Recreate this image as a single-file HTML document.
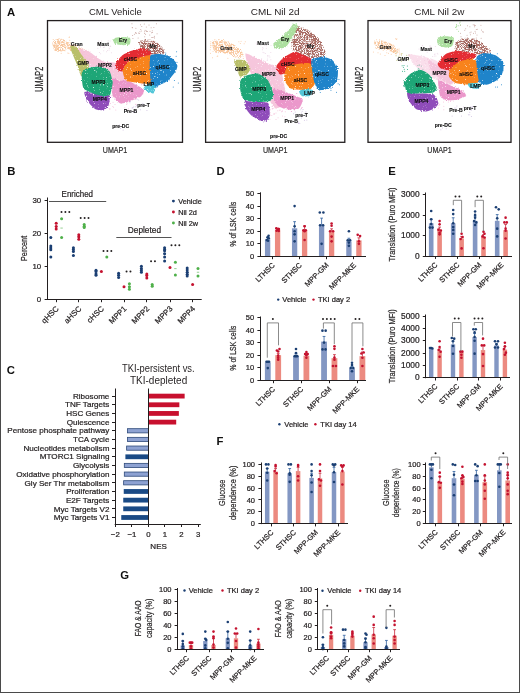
<!DOCTYPE html>
<html><head><meta charset="utf-8"><title>Figure</title>
<style>
html,body{margin:0;padding:0;background:#fff;}
body{width:520px;height:693px;overflow:hidden;}
#w{width:520px;height:693px;filter:blur(0.35px);}
svg{display:block;will-change:transform;font-family:"Liberation Sans", sans-serif;}
text{stroke:#231f20;stroke-width:0.22px;}
text.nb{stroke:none}
text.thin{stroke:#111;stroke-width:0.12px}
</style></head><body>
<div id="w">
<svg width="520" height="693" viewBox="0 0 520 693" fill="#231f20">
<defs><filter id="spk" x="-5%" y="-5%" width="110%" height="110%" color-interpolation-filters="sRGB">
<feTurbulence type="fractalNoise" baseFrequency="0.9" numOctaves="1" seed="7" result="n"/>
<feDisplacementMap in="SourceGraphic" in2="n" scale="3" xChannelSelector="R" yChannelSelector="G" result="d"/>
<feTurbulence type="fractalNoise" baseFrequency="1.3" numOctaves="1" seed="3" result="n2"/>
<feColorMatrix in="n2" type="matrix" values="0 0 0 0 0 0 0 0 0 0 0 0 0 0 0 -6 0 0 0 4.9" result="m"/>
<feComposite in="d" in2="m" operator="in" result="c"/>
<feGaussianBlur in="c" stdDeviation="0.3"/>
</filter>
<filter id="spk2" x="-5%" y="-5%" width="110%" height="110%" color-interpolation-filters="sRGB">
<feTurbulence type="fractalNoise" baseFrequency="0.9" numOctaves="1" seed="5" result="n"/>
<feDisplacementMap in="SourceGraphic" in2="n" scale="3" xChannelSelector="R" yChannelSelector="G" result="d"/>
<feTurbulence type="fractalNoise" baseFrequency="1.4" numOctaves="1" seed="9" result="n2"/>
<feColorMatrix in="n2" type="matrix" values="0 0 0 0 0 0 0 0 0 0 0 0 0 0 0 -7 0 0 0 4.2" result="m"/>
<feComposite in="d" in2="m" operator="in" result="c"/>
<feGaussianBlur in="c" stdDeviation="0.25"/>
</filter></defs>
<rect x="0" y="0" width="520" height="693" fill="#fff"/>
<text x="7" y="16.2" font-size="11.3" font-weight="bold" fill="#111" class="nb">A</text>
<text x="7.2" y="175.2" font-size="11.3" font-weight="bold" fill="#111" class="nb">B</text>
<text x="6.8" y="373.9" font-size="11.3" font-weight="bold" fill="#111" class="nb">C</text>
<text x="216.6" y="174.8" font-size="11.3" font-weight="bold" fill="#111" class="nb">D</text>
<text x="388.2" y="174.8" font-size="11.3" font-weight="bold" fill="#111" class="nb">E</text>
<text x="216.4" y="444.6" font-size="11.3" font-weight="bold" fill="#111" class="nb">F</text>
<text x="120.2" y="579.3" font-size="11.3" font-weight="bold" fill="#111" class="nb">G</text>
<text x="115.4" y="15" font-size="9.6" text-anchor="middle" textLength="53" lengthAdjust="spacingAndGlyphs" class="nb">CML Vehicle</text>
<text x="42.5" y="79.25" font-size="10.2" text-anchor="middle" fill="#333" textLength="24.8" lengthAdjust="spacingAndGlyphs" transform="rotate(-90 42.5 79.25)">UMAP2</text>
<text x="115" y="153.4" font-size="9.6" text-anchor="middle" fill="#333" textLength="24.5" lengthAdjust="spacingAndGlyphs">UMAP1</text>
<g transform="translate(47.5 20.6)">
<circle cx="51.88" cy="31.86" r="0.5" fill="#ecd6e6"/>
<circle cx="60.69" cy="23.57" r="0.5" fill="#ecd6e6"/>
<circle cx="56.94" cy="26.29" r="0.5" fill="#ecd6e6"/>
<circle cx="59.12" cy="31.04" r="0.5" fill="#ecd6e6"/>
<circle cx="51.31" cy="20.4" r="0.5" fill="#ecd6e6"/>
<circle cx="61.7" cy="26.06" r="0.5" fill="#ecd6e6"/>
<circle cx="60.67" cy="20.03" r="0.5" fill="#ecd6e6"/>
<circle cx="56.24" cy="30.1" r="0.5" fill="#ecd6e6"/>
<circle cx="53.2" cy="33.23" r="0.5" fill="#ecd6e6"/>
<circle cx="62.62" cy="20.43" r="0.5" fill="#ecd6e6"/>
<circle cx="50.36" cy="27.58" r="0.5" fill="#ecd6e6"/>
<circle cx="63.15" cy="25.34" r="0.5" fill="#ecd6e6"/>
<circle cx="53.03" cy="25.91" r="0.5" fill="#ecd6e6"/>
<circle cx="50.41" cy="23.1" r="0.5" fill="#ecd6e6"/>
<circle cx="56.13" cy="26.94" r="0.5" fill="#ecd6e6"/>
<circle cx="53.26" cy="23.23" r="0.5" fill="#ecd6e6"/>
<circle cx="53.06" cy="26.43" r="0.5" fill="#ecd6e6"/>
<circle cx="54.06" cy="20.3" r="0.5" fill="#ecd6e6"/>
<circle cx="61.73" cy="27.79" r="0.5" fill="#ecd6e6"/>
<circle cx="58.99" cy="22.6" r="0.5" fill="#ecd6e6"/>
<circle cx="63.9" cy="32.04" r="0.5" fill="#ecd6e6"/>
<circle cx="51.69" cy="24.66" r="0.5" fill="#ecd6e6"/>
<circle cx="60.1" cy="29.96" r="0.5" fill="#ecd6e6"/>
<circle cx="63.11" cy="25.91" r="0.5" fill="#ecd6e6"/>
<circle cx="61.62" cy="29.38" r="0.5" fill="#ecd6e6"/>
<circle cx="91.89" cy="12.99" r="0.5" fill="#c9a5a0"/>
<circle cx="106.94" cy="17.39" r="0.5" fill="#c9a5a0"/>
<circle cx="97.14" cy="13.01" r="0.5" fill="#c9a5a0"/>
<circle cx="84.9" cy="7.13" r="0.5" fill="#c9a5a0"/>
<circle cx="104.73" cy="10.04" r="0.5" fill="#c9a5a0"/>
<circle cx="88.5" cy="12.33" r="0.5" fill="#c9a5a0"/>
<circle cx="102.28" cy="14.47" r="0.5" fill="#c9a5a0"/>
<circle cx="93.74" cy="10.46" r="0.5" fill="#c9a5a0"/>
<circle cx="97.22" cy="16.23" r="0.5" fill="#c9a5a0"/>
<circle cx="97.54" cy="9.69" r="0.5" fill="#c9a5a0"/>
<circle cx="96.73" cy="3.5" r="0.5" fill="#c9a5a0"/>
<circle cx="85.13" cy="14.96" r="0.5" fill="#c9a5a0"/>
<circle cx="109.56" cy="13.08" r="0.5" fill="#c9a5a0"/>
<circle cx="94.23" cy="5.9" r="0.5" fill="#c9a5a0"/>
<circle cx="97.06" cy="19.7" r="0.5" fill="#c9a5a0"/>
<circle cx="104.03" cy="12.17" r="0.5" fill="#c9a5a0"/>
<circle cx="106.37" cy="6.95" r="0.5" fill="#c9a5a0"/>
<circle cx="97.36" cy="19.19" r="0.5" fill="#c9a5a0"/>
<circle cx="99.02" cy="10.81" r="0.5" fill="#c9a5a0"/>
<circle cx="91" cy="12.32" r="0.5" fill="#c9a5a0"/>
<circle cx="108.89" cy="3.1" r="0.5" fill="#c9a5a0"/>
<circle cx="104.38" cy="16.95" r="0.5" fill="#c9a5a0"/>
<circle cx="107.04" cy="15.59" r="0.5" fill="#c9a5a0"/>
<circle cx="105.04" cy="11.82" r="0.5" fill="#c9a5a0"/>
<circle cx="98.6" cy="10.24" r="0.5" fill="#c9a5a0"/>
<circle cx="85.46" cy="17.79" r="0.5" fill="#c9a5a0"/>
<circle cx="98.82" cy="6.4" r="0.5" fill="#c9a5a0"/>
<circle cx="97.12" cy="11.24" r="0.5" fill="#c9a5a0"/>
<circle cx="93.28" cy="8.88" r="0.5" fill="#c9a5a0"/>
<circle cx="98" cy="13.6" r="0.5" fill="#c9a5a0"/>
<circle cx="99.92" cy="10.79" r="0.5" fill="#c9a5a0"/>
<circle cx="84.73" cy="6.9" r="0.5" fill="#c9a5a0"/>
<circle cx="88.61" cy="12.94" r="0.5" fill="#c9a5a0"/>
<circle cx="106.39" cy="16.57" r="0.5" fill="#c9a5a0"/>
<circle cx="104.72" cy="16.88" r="0.5" fill="#c9a5a0"/>
<circle cx="90.64" cy="17.31" r="0.5" fill="#c9a5a0"/>
<circle cx="101.5" cy="4.41" r="0.5" fill="#c9a5a0"/>
<circle cx="84.43" cy="3.25" r="0.5" fill="#c9a5a0"/>
<circle cx="103.65" cy="7.24" r="0.5" fill="#c9a5a0"/>
<circle cx="86.85" cy="13.62" r="0.5" fill="#c9a5a0"/>
<circle cx="92.95" cy="4.18" r="0.5" fill="#c9a5a0"/>
<circle cx="88.15" cy="11.97" r="0.5" fill="#c9a5a0"/>
<circle cx="88.37" cy="7.64" r="0.5" fill="#c9a5a0"/>
<circle cx="102.5" cy="10.73" r="0.5" fill="#c9a5a0"/>
<circle cx="92.37" cy="11.05" r="0.5" fill="#c9a5a0"/>
<circle cx="82.43" cy="82.18" r="0.5" fill="#cdbde0"/>
<circle cx="89.58" cy="79.01" r="0.5" fill="#cdbde0"/>
<circle cx="83.96" cy="90.4" r="0.5" fill="#cdbde0"/>
<circle cx="91.18" cy="79.35" r="0.5" fill="#cdbde0"/>
<circle cx="92.9" cy="89.07" r="0.5" fill="#cdbde0"/>
<circle cx="82.37" cy="76.29" r="0.5" fill="#cdbde0"/>
<circle cx="84.64" cy="87.5" r="0.5" fill="#cdbde0"/>
<circle cx="84.88" cy="87.27" r="0.5" fill="#cdbde0"/>
<circle cx="94.21" cy="84.72" r="0.5" fill="#cdbde0"/>
<circle cx="85.97" cy="91.61" r="0.5" fill="#cdbde0"/>
<circle cx="96.36" cy="84.27" r="0.5" fill="#cdbde0"/>
<circle cx="86.02" cy="86.38" r="0.5" fill="#cdbde0"/>
<circle cx="89.11" cy="85.21" r="0.5" fill="#cdbde0"/>
<circle cx="87.78" cy="86.1" r="0.5" fill="#cdbde0"/>
<circle cx="83.06" cy="80.78" r="0.5" fill="#cdbde0"/>
<circle cx="99.42" cy="90.01" r="0.5" fill="#cdbde0"/>
<circle cx="87.51" cy="89.74" r="0.5" fill="#cdbde0"/>
<circle cx="87.59" cy="91.03" r="0.5" fill="#cdbde0"/>
<circle cx="95.39" cy="82.66" r="0.5" fill="#cdbde0"/>
<circle cx="86.54" cy="76.14" r="0.5" fill="#cdbde0"/>
<circle cx="21.57" cy="16.64" r="0.5" fill="#fbc9a0"/>
<circle cx="20.39" cy="32.36" r="0.5" fill="#fbc9a0"/>
<circle cx="15.41" cy="18.92" r="0.5" fill="#fbc9a0"/>
<circle cx="21.36" cy="32.55" r="0.5" fill="#fbc9a0"/>
<circle cx="18.08" cy="24.65" r="0.5" fill="#fbc9a0"/>
<circle cx="11.56" cy="21.9" r="0.5" fill="#fbc9a0"/>
<circle cx="8.12" cy="27.46" r="0.5" fill="#fbc9a0"/>
<circle cx="12.66" cy="19.3" r="0.5" fill="#fbc9a0"/>
<circle cx="6.09" cy="27.32" r="0.5" fill="#fbc9a0"/>
<circle cx="9.92" cy="24.5" r="0.5" fill="#fbc9a0"/>
<circle cx="10.51" cy="30.82" r="0.5" fill="#fbc9a0"/>
<circle cx="21.99" cy="16.31" r="0.5" fill="#fbc9a0"/>
<circle cx="8.02" cy="21.57" r="0.5" fill="#fbc9a0"/>
<circle cx="23.74" cy="29.31" r="0.5" fill="#fbc9a0"/>
<circle cx="10.78" cy="19.62" r="0.5" fill="#fbc9a0"/>
<circle cx="17.49" cy="30.24" r="0.5" fill="#fbc9a0"/>
<circle cx="22.64" cy="21.85" r="0.5" fill="#fbc9a0"/>
<circle cx="21.65" cy="27.68" r="0.5" fill="#fbc9a0"/>
<circle cx="13.69" cy="32.75" r="0.5" fill="#fbc9a0"/>
<circle cx="8.69" cy="28.33" r="0.5" fill="#fbc9a0"/>
<circle cx="5.69" cy="18.88" r="0.5" fill="#fbc9a0"/>
<circle cx="22.22" cy="19.62" r="0.5" fill="#fbc9a0"/>
<circle cx="19.18" cy="26.2" r="0.5" fill="#fbc9a0"/>
<circle cx="20.82" cy="22.26" r="0.5" fill="#fbc9a0"/>
<circle cx="10.81" cy="20.95" r="0.5" fill="#fbc9a0"/>
<circle cx="79.08" cy="83.66" r="0.5" fill="#f5c3da"/>
<circle cx="80.99" cy="88.2" r="0.5" fill="#f5c3da"/>
<circle cx="62.98" cy="82.82" r="0.5" fill="#f5c3da"/>
<circle cx="62.29" cy="74.63" r="0.5" fill="#f5c3da"/>
<circle cx="61.61" cy="87.86" r="0.5" fill="#f5c3da"/>
<circle cx="77.34" cy="87.26" r="0.5" fill="#f5c3da"/>
<circle cx="67.5" cy="83.84" r="0.5" fill="#f5c3da"/>
<circle cx="77.2" cy="80.05" r="0.5" fill="#f5c3da"/>
<circle cx="72.56" cy="77.58" r="0.5" fill="#f5c3da"/>
<circle cx="61.8" cy="78.27" r="0.5" fill="#f5c3da"/>
<circle cx="79.6" cy="83.03" r="0.5" fill="#f5c3da"/>
<circle cx="80.35" cy="81.32" r="0.5" fill="#f5c3da"/>
<circle cx="66.1" cy="86.59" r="0.5" fill="#f5c3da"/>
<circle cx="78.21" cy="74.2" r="0.5" fill="#f5c3da"/>
<circle cx="74.75" cy="75.47" r="0.5" fill="#f5c3da"/>
<circle cx="62.53" cy="88.16" r="0.5" fill="#f5c3da"/>
<circle cx="60.88" cy="77.83" r="0.5" fill="#f5c3da"/>
<circle cx="81.74" cy="80.74" r="0.5" fill="#f5c3da"/>
<circle cx="62.54" cy="76.68" r="0.5" fill="#f5c3da"/>
<circle cx="65.31" cy="85.9" r="0.5" fill="#f5c3da"/>
<circle cx="62.26" cy="88.57" r="0.5" fill="#f5c3da"/>
<circle cx="68.32" cy="89.52" r="0.5" fill="#f5c3da"/>
<circle cx="80" cy="78.7" r="0.5" fill="#f5c3da"/>
<circle cx="65.58" cy="81.63" r="0.5" fill="#f5c3da"/>
<circle cx="62.2" cy="84.43" r="0.5" fill="#f5c3da"/>
<circle cx="60.87" cy="74.17" r="0.5" fill="#f5c3da"/>
<circle cx="81.62" cy="78.73" r="0.5" fill="#f5c3da"/>
<circle cx="73.12" cy="81.2" r="0.5" fill="#f5c3da"/>
<circle cx="66.89" cy="75.01" r="0.5" fill="#f5c3da"/>
<circle cx="80.09" cy="89.52" r="0.5" fill="#f5c3da"/>
<circle cx="94.97" cy="62.67" r="0.5" fill="#ea92c8"/>
<circle cx="69.32" cy="74.83" r="0.5" fill="#ea92c8"/>
<circle cx="95.32" cy="73.03" r="0.5" fill="#ea92c8"/>
<circle cx="85.4" cy="75.88" r="0.5" fill="#ea92c8"/>
<circle cx="70.81" cy="73" r="0.5" fill="#ea92c8"/>
<circle cx="72.45" cy="65.91" r="0.5" fill="#ea92c8"/>
<circle cx="64.77" cy="66.74" r="0.5" fill="#ea92c8"/>
<circle cx="95.43" cy="70.75" r="0.5" fill="#ea92c8"/>
<circle cx="84.17" cy="75.44" r="0.5" fill="#ea92c8"/>
<circle cx="93.98" cy="69.37" r="0.5" fill="#ea92c8"/>
<circle cx="72.43" cy="67.85" r="0.5" fill="#ea92c8"/>
<circle cx="72.77" cy="80.33" r="0.5" fill="#ea92c8"/>
<circle cx="92.38" cy="67.27" r="0.5" fill="#ea92c8"/>
<circle cx="73.37" cy="73.06" r="0.5" fill="#ea92c8"/>
<circle cx="81.69" cy="74.3" r="0.5" fill="#ea92c8"/>
<circle cx="70.33" cy="60.49" r="0.5" fill="#ea92c8"/>
<circle cx="70.29" cy="61.74" r="0.5" fill="#ea92c8"/>
<circle cx="80.74" cy="61.7" r="0.5" fill="#ea92c8"/>
<circle cx="64.55" cy="75.25" r="0.5" fill="#ea92c8"/>
<circle cx="71.89" cy="79.01" r="0.5" fill="#ea92c8"/>
<circle cx="78.77" cy="80.7" r="0.5" fill="#ea92c8"/>
<circle cx="67.24" cy="72.03" r="0.5" fill="#ea92c8"/>
<circle cx="89.03" cy="61.85" r="0.5" fill="#ea92c8"/>
<circle cx="94.27" cy="64.16" r="0.5" fill="#ea92c8"/>
<circle cx="88.39" cy="83.64" r="0.5" fill="#ea92c8"/>
<circle cx="126.29" cy="42.79" r="0.5" fill="#1f84ca"/>
<circle cx="103.42" cy="50.57" r="0.5" fill="#1f84ca"/>
<circle cx="129.42" cy="41.74" r="0.5" fill="#1f84ca"/>
<circle cx="128.6" cy="35.67" r="0.5" fill="#1f84ca"/>
<circle cx="129.14" cy="31.27" r="0.5" fill="#1f84ca"/>
<circle cx="110.11" cy="66.12" r="0.5" fill="#1f84ca"/>
<circle cx="125.72" cy="66.29" r="0.5" fill="#1f84ca"/>
<circle cx="126.9" cy="59.85" r="0.5" fill="#1f84ca"/>
<circle cx="122.07" cy="37.13" r="0.5" fill="#1f84ca"/>
<circle cx="113.84" cy="36.32" r="0.5" fill="#1f84ca"/>
<circle cx="122.87" cy="56.71" r="0.5" fill="#1f84ca"/>
<circle cx="108.08" cy="32.58" r="0.5" fill="#1f84ca"/>
<circle cx="130.83" cy="62.33" r="0.5" fill="#1f84ca"/>
<circle cx="117.58" cy="51.66" r="0.5" fill="#1f84ca"/>
<circle cx="127.24" cy="48.13" r="0.5" fill="#1f84ca"/>
<circle cx="112.66" cy="43.55" r="0.5" fill="#1f84ca"/>
<circle cx="108.26" cy="30.98" r="0.5" fill="#1f84ca"/>
<circle cx="120.69" cy="46.67" r="0.5" fill="#1f84ca"/>
<circle cx="118.26" cy="32.49" r="0.5" fill="#1f84ca"/>
<circle cx="111.36" cy="35.53" r="0.5" fill="#1f84ca"/>
<circle cx="104" cy="40.36" r="0.5" fill="#1f84ca"/>
<circle cx="126.53" cy="45.91" r="0.5" fill="#1f84ca"/>
<circle cx="112.83" cy="54.5" r="0.5" fill="#1f84ca"/>
<circle cx="107.47" cy="30.3" r="0.5" fill="#1f84ca"/>
<circle cx="116.92" cy="50.04" r="0.5" fill="#1f84ca"/>
<circle cx="120.76" cy="47.53" r="0.5" fill="#1f84ca"/>
<circle cx="121.97" cy="59.26" r="0.5" fill="#1f84ca"/>
<circle cx="107.63" cy="49.8" r="0.5" fill="#1f84ca"/>
<circle cx="115.32" cy="39" r="0.5" fill="#1f84ca"/>
<circle cx="113.19" cy="52.42" r="0.5" fill="#1f84ca"/>
<circle cx="75.63" cy="109.51" r="0.5" fill="#cdbde0"/>
<circle cx="73.1" cy="107.88" r="0.5" fill="#cdbde0"/>
<circle cx="72.19" cy="104.43" r="0.5" fill="#cdbde0"/>
<g filter="url(#spk2)">
<path d="M5 22C5.3 20.8 8.9 18.3 10 18C11.1 17.7 14.9 18.6 16 19C17.1 19.4 20.6 21.1 21 22C21.4 22.9 20.7 27.1 20 28C19.3 28.9 15.3 30.8 14 31C12.7 31.2 7.9 30.9 7 30C6.1 29.1 4.7 23.2 5 22Z" fill="#f8c8a0"/>
<path d="M20 22C21 21.7 28 24.1 30 25C32 25.9 38 29.5 40 31C42 32.5 49.4 38.7 50 40C50.6 41.3 47.4 44.2 46 44C44.6 43.8 38 39.3 36 38C34 36.7 27.6 32 26 31C24.4 30 20.6 28.9 20 28C19.4 27.1 19 22.3 20 22Z" fill="#f8c8a0"/>
<path d="M91.9 20.7C92.85 19.83 100.95 18.78 103 19.1C105.05 19.42 110.98 22.63 112.4 23.9C113.82 25.17 117.2 30.78 117.2 31.8C117.2 32.82 113.82 33.95 112.4 34.1C110.98 34.25 104.89 33.93 103 33.3C101.11 32.67 94.61 29.06 93.5 27.8C92.39 26.54 90.95 21.57 91.9 20.7Z" fill="#a86a62"/>
</g>
<g filter="url(#spk)">
<path d="M31 28C31.4 27.2 38.4 29.3 40 30C41.6 30.7 45.4 33.9 47 35C48.6 36.1 54.1 40.3 56 41C57.9 41.7 64.4 41.7 66 42C67.6 42.3 70.9 43 72 44C73.1 45 76.3 50.4 77 52C77.7 53.6 79.5 58.8 79 60C78.5 61.2 73.3 63.7 72 64C70.7 64.3 67.6 63.8 66 63C64.4 62.2 57.8 57.4 56 56C54.2 54.6 49.5 50.1 48 49C46.5 47.9 42.2 46.1 41 45C39.8 43.9 37 39.7 36 38C35 36.3 30.6 28.8 31 28Z" fill="#f5c3da" fill-opacity="0.95"/>
<path d="M22.6 27C22.44 25.18 26.68 25.09 28.1 26.2C29.52 27.31 35.46 36.13 36.8 38.1C38.14 40.07 41.42 44.48 41.5 45.9C41.58 47.32 38.39 51.35 37.6 52.3C36.81 53.25 34.39 56.19 33.6 55.4C32.81 54.61 30.8 47.24 29.7 44.4C28.6 41.56 22.76 28.82 22.6 27Z" fill="#b9bf6a"/>
<path d="M66 18C66.7 17.35 72.35 16.54 74 16.5C75.65 16.46 81.7 16.86 82.5 17.6C83.3 18.34 82.85 23.21 82 23.9C81.15 24.59 75.5 24.59 74 24.5C72.5 24.41 67.8 23.65 67 23C66.2 22.35 65.3 18.65 66 18Z" fill="#a3dc95" fill-opacity="0.9"/>
<path d="M65 58C65.8 57.2 70.5 59.8 72 60C73.5 60.2 78.2 59.5 80 60C81.8 60.5 88.35 64.03 90 65C91.65 65.97 96.16 68.6 96.5 69.7C96.84 70.8 94.65 74.97 93.4 76C92.15 77.03 86.01 79.3 84 80C81.99 80.7 75.14 83.4 73.3 83C71.46 82.6 66.53 77.5 65.6 76C64.67 74.5 64.06 69.8 64 68C63.94 66.2 64.2 58.8 65 58Z" fill="#ea92c8" fill-opacity="0.95"/>
<path d="M37.1 71.3C37.87 70.92 43.52 71.94 45.6 72.1C47.68 72.26 56.21 72.52 57.9 72.9C59.59 73.28 62.19 74.67 62.5 75.9C62.81 77.13 61.62 83.81 61 85.2C60.38 86.59 57.53 89.42 56.3 89.8C55.07 90.18 50.08 89.62 48.7 89C47.32 88.38 43.58 84.91 42.5 83.6C41.42 82.29 38.44 77.13 37.9 75.9C37.36 74.67 36.33 71.68 37.1 71.3Z" fill="#8f4cba"/>
<path d="M34.4 52.3C34.94 51.05 38.09 48.14 39.9 47.5C41.71 46.86 50.29 45.58 52.5 45.9C54.71 46.22 60.73 49.12 62 50.7C63.27 52.28 65 59.97 65.2 61.7C65.4 63.43 64.27 66.73 64 68C63.73 69.27 63.33 73.65 62.5 74.4C61.67 75.15 57.39 75.65 55.7 75.5C54.01 75.35 47.54 73.63 45.6 72.9C43.66 72.17 37.41 69.49 36.3 68.2C35.19 66.91 34.69 61.59 34.5 60C34.31 58.41 33.86 53.55 34.4 52.3Z" fill="#1ea677"/>
<path d="M68.3 42.8C68.77 41.38 73.03 36.16 74.6 34.9C76.17 33.64 82.11 30.91 84 30.2C85.89 29.49 91.68 27.8 93.5 27.8C95.32 27.8 101.25 29.49 102.2 30.2C103.15 30.91 105.13 33.8 103 34.9C100.87 36 83.66 39.62 80.9 41.2C78.14 42.78 76.5 49.91 75.4 50.7C74.3 51.49 70.61 49.89 69.9 49.1C69.19 48.31 67.83 44.22 68.3 42.8Z" fill="#e42c33"/>
<path d="M80.9 41.2C83.66 39.62 100.48 33.01 103 34.9C105.52 36.79 106.42 57.26 106.1 60.1C105.78 62.94 102.48 63.3 99.8 63.3C97.12 63.3 81.74 61.36 79.3 60.1C76.86 58.84 75.24 52.59 75.4 50.7C75.56 48.81 78.14 42.78 80.9 41.2Z" fill="#f8831c"/>
<path d="M103 34.9C103.87 33.64 109.01 33.22 110.9 33.3C112.79 33.38 120.01 34.67 121.9 35.7C123.79 36.73 129.17 42.1 129.8 43.6C130.43 45.1 129.15 49.05 128.2 50.7C127.25 52.35 122.03 58.68 120.3 60.1C118.57 61.52 112.48 64.11 110.9 64.9C109.32 65.69 105.29 68.63 104.5 68C103.71 67.37 103.23 60.81 103 58.6C102.77 56.39 102.2 48.27 102.2 45.9C102.2 43.53 102.13 36.16 103 34.9Z" fill="#1f84ca"/>
<path d="M99.8 63.3C100.65 62.9 103.68 63.73 104.5 64C105.32 64.27 107.85 65.12 108 66C108.15 66.88 106.7 72.25 106 72.8C105.3 73.35 102 71.98 101 71.5C100 71.02 96.12 68.82 96 68C95.88 67.18 98.95 63.7 99.8 63.3Z" fill="#40c0d4" fill-opacity="0.9"/>
</g>
<text x="29.2" y="25.8" font-size="5.1" text-anchor="middle" font-weight="bold" fill="#111" class="thin">Gran</text>
<text x="55.6" y="25.3" font-size="5.1" text-anchor="middle" font-weight="bold" fill="#111" class="thin">Mast</text>
<text x="75.6" y="21.8" font-size="5.1" text-anchor="middle" font-weight="bold" fill="#111" class="thin">Ery</text>
<text x="105.5" y="27.8" font-size="5.1" text-anchor="middle" font-weight="bold" fill="#111" class="thin">My</text>
<text x="35.7" y="44.4" font-size="5.1" text-anchor="middle" font-weight="bold" fill="#111" class="thin">GMP</text>
<text x="57.5" y="46.8" font-size="5.1" text-anchor="middle" font-weight="bold" fill="#111" class="thin">MPP2</text>
<text x="83" y="40.2" font-size="5.1" text-anchor="middle" font-weight="bold" fill="#111" class="thin">cHSC</text>
<text x="92" y="54.1" font-size="5.1" text-anchor="middle" font-weight="bold" fill="#111" class="thin">aHSC</text>
<text x="115" y="48.8" font-size="5.1" text-anchor="middle" font-weight="bold" fill="#111" class="thin">qHSC</text>
<text x="51" y="63.5" font-size="5.1" text-anchor="middle" font-weight="bold" fill="#111" class="thin">MPP3</text>
<text x="79" y="71.1" font-size="5.1" text-anchor="middle" font-weight="bold" fill="#111" class="thin">MPP1</text>
<text x="101.4" y="65.3" font-size="5.1" text-anchor="middle" font-weight="bold" fill="#111" class="thin">LMP</text>
<text x="52.3" y="80.3" font-size="5.1" text-anchor="middle" font-weight="bold" fill="#111" class="thin">MPP4</text>
<text x="83" y="92.8" font-size="5.1" text-anchor="middle" font-weight="bold" fill="#111" class="thin">Pre-B</text>
<text x="96" y="86.8" font-size="5.1" text-anchor="middle" font-weight="bold" fill="#111" class="thin">pre-T</text>
<text x="73.2" y="107.8" font-size="5.1" text-anchor="middle" font-weight="bold" fill="#111" class="thin">pre-DC</text>
</g>
<rect x="47.5" y="20.6" width="135" height="121.7" fill="none" stroke="#231f20" stroke-width="1.3"/>
<text x="275.2" y="15" font-size="9.6" text-anchor="middle" textLength="48.8" lengthAdjust="spacingAndGlyphs" class="nb">CML Nil 2d</text>
<text x="200.6" y="79.25" font-size="10.2" text-anchor="middle" fill="#333" textLength="24.8" lengthAdjust="spacingAndGlyphs" transform="rotate(-90 200.6 79.25)">UMAP2</text>
<text x="275.2" y="153.4" font-size="9.6" text-anchor="middle" fill="#333" textLength="24.5" lengthAdjust="spacingAndGlyphs">UMAP1</text>
<g transform="translate(205.6 20.6)">
<circle cx="65.3" cy="39.06" r="0.5" fill="#ecd6e6"/>
<circle cx="50.9" cy="23.53" r="0.5" fill="#ecd6e6"/>
<circle cx="63.37" cy="35.25" r="0.5" fill="#ecd6e6"/>
<circle cx="60.72" cy="27.55" r="0.5" fill="#ecd6e6"/>
<circle cx="59.7" cy="32.92" r="0.5" fill="#ecd6e6"/>
<circle cx="59.3" cy="24.85" r="0.5" fill="#ecd6e6"/>
<circle cx="56.89" cy="29.08" r="0.5" fill="#ecd6e6"/>
<circle cx="61.57" cy="39.91" r="0.5" fill="#ecd6e6"/>
<circle cx="65.19" cy="31.8" r="0.5" fill="#ecd6e6"/>
<circle cx="57.12" cy="26.83" r="0.5" fill="#ecd6e6"/>
<circle cx="50.57" cy="22.49" r="0.5" fill="#ecd6e6"/>
<circle cx="57.44" cy="27.73" r="0.5" fill="#ecd6e6"/>
<circle cx="56.08" cy="38.05" r="0.5" fill="#ecd6e6"/>
<circle cx="58.41" cy="32.09" r="0.5" fill="#ecd6e6"/>
<circle cx="53.78" cy="22.43" r="0.5" fill="#ecd6e6"/>
<circle cx="55.2" cy="24.46" r="0.5" fill="#ecd6e6"/>
<circle cx="58.16" cy="39.98" r="0.5" fill="#ecd6e6"/>
<circle cx="60.79" cy="25.27" r="0.5" fill="#ecd6e6"/>
<circle cx="64.3" cy="36.34" r="0.5" fill="#ecd6e6"/>
<circle cx="61.75" cy="38.32" r="0.5" fill="#ecd6e6"/>
<circle cx="62.21" cy="36.22" r="0.5" fill="#ecd6e6"/>
<circle cx="55.66" cy="39.66" r="0.5" fill="#ecd6e6"/>
<circle cx="65.39" cy="24.9" r="0.5" fill="#ecd6e6"/>
<circle cx="62.06" cy="34.87" r="0.5" fill="#ecd6e6"/>
<circle cx="57.38" cy="31.55" r="0.5" fill="#ecd6e6"/>
<circle cx="92.82" cy="102.8" r="0.5" fill="#cdbde0"/>
<circle cx="93.02" cy="101.3" r="0.5" fill="#cdbde0"/>
<circle cx="90.37" cy="102.13" r="0.5" fill="#cdbde0"/>
<circle cx="100.19" cy="95.38" r="0.5" fill="#cdbde0"/>
<circle cx="94.22" cy="102.73" r="0.5" fill="#cdbde0"/>
<circle cx="97.03" cy="95.79" r="0.5" fill="#cdbde0"/>
<circle cx="87.99" cy="93.19" r="0.5" fill="#cdbde0"/>
<circle cx="96.59" cy="90.66" r="0.5" fill="#cdbde0"/>
<circle cx="100.34" cy="92.29" r="0.5" fill="#cdbde0"/>
<circle cx="100.4" cy="92.95" r="0.5" fill="#cdbde0"/>
<circle cx="101.23" cy="99.3" r="0.5" fill="#cdbde0"/>
<circle cx="93.08" cy="96.28" r="0.5" fill="#cdbde0"/>
<circle cx="95.73" cy="97.41" r="0.5" fill="#cdbde0"/>
<circle cx="89.61" cy="91.33" r="0.5" fill="#cdbde0"/>
<circle cx="93.21" cy="102.95" r="0.5" fill="#cdbde0"/>
<circle cx="95.22" cy="89.21" r="0.5" fill="#cdbde0"/>
<circle cx="98.77" cy="99.62" r="0.5" fill="#cdbde0"/>
<circle cx="100.34" cy="91.06" r="0.5" fill="#cdbde0"/>
<circle cx="97.41" cy="88.94" r="0.5" fill="#cdbde0"/>
<circle cx="95.75" cy="92.37" r="0.5" fill="#cdbde0"/>
<circle cx="12.16" cy="35.51" r="0.5" fill="#fbc9a0"/>
<circle cx="7.83" cy="28.45" r="0.5" fill="#fbc9a0"/>
<circle cx="34.74" cy="22.9" r="0.5" fill="#fbc9a0"/>
<circle cx="11.58" cy="35.61" r="0.5" fill="#fbc9a0"/>
<circle cx="19.23" cy="32.34" r="0.5" fill="#fbc9a0"/>
<circle cx="5.15" cy="25.25" r="0.5" fill="#fbc9a0"/>
<circle cx="10.19" cy="31.46" r="0.5" fill="#fbc9a0"/>
<circle cx="6.98" cy="37.09" r="0.5" fill="#fbc9a0"/>
<circle cx="4.91" cy="32.59" r="0.5" fill="#fbc9a0"/>
<circle cx="4.76" cy="23.11" r="0.5" fill="#fbc9a0"/>
<circle cx="33.28" cy="21.14" r="0.5" fill="#fbc9a0"/>
<circle cx="10.61" cy="31.83" r="0.5" fill="#fbc9a0"/>
<circle cx="17.88" cy="18.86" r="0.5" fill="#fbc9a0"/>
<circle cx="39.64" cy="21.03" r="0.5" fill="#fbc9a0"/>
<circle cx="5.31" cy="24.88" r="0.5" fill="#fbc9a0"/>
<circle cx="26.15" cy="32.85" r="0.5" fill="#fbc9a0"/>
<circle cx="8.07" cy="24.74" r="0.5" fill="#fbc9a0"/>
<circle cx="5.11" cy="26.97" r="0.5" fill="#fbc9a0"/>
<circle cx="31.57" cy="32.8" r="0.5" fill="#fbc9a0"/>
<circle cx="36.47" cy="33.11" r="0.5" fill="#fbc9a0"/>
<circle cx="35.05" cy="32.11" r="0.5" fill="#fbc9a0"/>
<circle cx="21.02" cy="22.51" r="0.5" fill="#fbc9a0"/>
<circle cx="27.79" cy="24.33" r="0.5" fill="#fbc9a0"/>
<circle cx="7.67" cy="26.96" r="0.5" fill="#fbc9a0"/>
<circle cx="35.49" cy="20.55" r="0.5" fill="#fbc9a0"/>
<circle cx="25.06" cy="25.86" r="0.5" fill="#fbc9a0"/>
<circle cx="22.53" cy="20.88" r="0.5" fill="#fbc9a0"/>
<circle cx="38.55" cy="23.18" r="0.5" fill="#fbc9a0"/>
<circle cx="25.82" cy="26.4" r="0.5" fill="#fbc9a0"/>
<circle cx="4.65" cy="29.16" r="0.5" fill="#fbc9a0"/>
<circle cx="9.06" cy="19.14" r="0.5" fill="#fbc9a0"/>
<circle cx="5.21" cy="21.22" r="0.5" fill="#fbc9a0"/>
<circle cx="7.45" cy="30.7" r="0.5" fill="#fbc9a0"/>
<circle cx="22.3" cy="37.67" r="0.5" fill="#fbc9a0"/>
<circle cx="37.63" cy="37.89" r="0.5" fill="#fbc9a0"/>
<circle cx="64.65" cy="92.23" r="0.5" fill="#f5c3da"/>
<circle cx="65.02" cy="94.28" r="0.5" fill="#f5c3da"/>
<circle cx="72.48" cy="97.2" r="0.5" fill="#f5c3da"/>
<circle cx="74.19" cy="89.59" r="0.5" fill="#f5c3da"/>
<circle cx="68.46" cy="93.37" r="0.5" fill="#f5c3da"/>
<circle cx="60.1" cy="86.5" r="0.5" fill="#f5c3da"/>
<circle cx="68.17" cy="87.56" r="0.5" fill="#f5c3da"/>
<circle cx="74.48" cy="89.37" r="0.5" fill="#f5c3da"/>
<circle cx="62" cy="88.54" r="0.5" fill="#f5c3da"/>
<circle cx="64.63" cy="89.04" r="0.5" fill="#f5c3da"/>
<circle cx="70.41" cy="92.5" r="0.5" fill="#f5c3da"/>
<circle cx="66.19" cy="94.98" r="0.5" fill="#f5c3da"/>
<circle cx="64.25" cy="98.69" r="0.5" fill="#f5c3da"/>
<circle cx="79.26" cy="96.21" r="0.5" fill="#f5c3da"/>
<circle cx="68.67" cy="93.16" r="0.5" fill="#f5c3da"/>
<circle cx="71.62" cy="86.72" r="0.5" fill="#f5c3da"/>
<circle cx="68.36" cy="93.35" r="0.5" fill="#f5c3da"/>
<circle cx="63.62" cy="87.31" r="0.5" fill="#f5c3da"/>
<circle cx="76.05" cy="91.13" r="0.5" fill="#f5c3da"/>
<circle cx="70.38" cy="98.9" r="0.5" fill="#f5c3da"/>
<circle cx="72.21" cy="90.05" r="0.5" fill="#f5c3da"/>
<circle cx="79.67" cy="91.21" r="0.5" fill="#f5c3da"/>
<circle cx="60.38" cy="95.59" r="0.5" fill="#f5c3da"/>
<circle cx="62.02" cy="90.28" r="0.5" fill="#f5c3da"/>
<circle cx="76.81" cy="95.42" r="0.5" fill="#f5c3da"/>
<circle cx="64.53" cy="77.74" r="0.5" fill="#ea92c8"/>
<circle cx="77.96" cy="78.63" r="0.5" fill="#ea92c8"/>
<circle cx="71.08" cy="81.31" r="0.5" fill="#ea92c8"/>
<circle cx="66.51" cy="73.39" r="0.5" fill="#ea92c8"/>
<circle cx="76.68" cy="90.32" r="0.5" fill="#ea92c8"/>
<circle cx="66.6" cy="85.63" r="0.5" fill="#ea92c8"/>
<circle cx="70.54" cy="80.86" r="0.5" fill="#ea92c8"/>
<circle cx="77.32" cy="78.04" r="0.5" fill="#ea92c8"/>
<circle cx="89.62" cy="76.27" r="0.5" fill="#ea92c8"/>
<circle cx="68.14" cy="69.17" r="0.5" fill="#ea92c8"/>
<circle cx="66.74" cy="88.1" r="0.5" fill="#ea92c8"/>
<circle cx="85.79" cy="90.95" r="0.5" fill="#ea92c8"/>
<circle cx="87.55" cy="66.64" r="0.5" fill="#ea92c8"/>
<circle cx="86.41" cy="86.21" r="0.5" fill="#ea92c8"/>
<circle cx="88.6" cy="78.95" r="0.5" fill="#ea92c8"/>
<circle cx="76.16" cy="77.88" r="0.5" fill="#ea92c8"/>
<circle cx="91.16" cy="72.99" r="0.5" fill="#ea92c8"/>
<circle cx="81.89" cy="78.42" r="0.5" fill="#ea92c8"/>
<circle cx="96.46" cy="86.91" r="0.5" fill="#ea92c8"/>
<circle cx="95.69" cy="87.74" r="0.5" fill="#ea92c8"/>
<circle cx="74.09" cy="72.02" r="0.5" fill="#ea92c8"/>
<circle cx="80.62" cy="72.74" r="0.5" fill="#ea92c8"/>
<circle cx="78.54" cy="83.66" r="0.5" fill="#ea92c8"/>
<circle cx="95.23" cy="81.23" r="0.5" fill="#ea92c8"/>
<circle cx="91.81" cy="68.49" r="0.5" fill="#ea92c8"/>
<circle cx="114.68" cy="71.92" r="0.5" fill="#1f84ca"/>
<circle cx="108.4" cy="51" r="0.5" fill="#1f84ca"/>
<circle cx="106.01" cy="39.1" r="0.5" fill="#1f84ca"/>
<circle cx="130.87" cy="71.59" r="0.5" fill="#1f84ca"/>
<circle cx="123.44" cy="40.63" r="0.5" fill="#1f84ca"/>
<circle cx="112.89" cy="44.34" r="0.5" fill="#1f84ca"/>
<circle cx="124.12" cy="60.52" r="0.5" fill="#1f84ca"/>
<circle cx="117.17" cy="54.86" r="0.5" fill="#1f84ca"/>
<circle cx="107.36" cy="55.47" r="0.5" fill="#1f84ca"/>
<circle cx="132.5" cy="63.21" r="0.5" fill="#1f84ca"/>
<circle cx="106.88" cy="54.59" r="0.5" fill="#1f84ca"/>
<circle cx="125.46" cy="45.26" r="0.5" fill="#1f84ca"/>
<circle cx="130.85" cy="52.59" r="0.5" fill="#1f84ca"/>
<circle cx="125.1" cy="50.55" r="0.5" fill="#1f84ca"/>
<circle cx="133.85" cy="64.18" r="0.5" fill="#1f84ca"/>
<circle cx="121.2" cy="41.21" r="0.5" fill="#1f84ca"/>
<circle cx="117.24" cy="37.06" r="0.5" fill="#1f84ca"/>
<circle cx="121.85" cy="67.75" r="0.5" fill="#1f84ca"/>
<circle cx="109.41" cy="54.37" r="0.5" fill="#1f84ca"/>
<circle cx="118.47" cy="50.58" r="0.5" fill="#1f84ca"/>
<circle cx="125.31" cy="69.72" r="0.5" fill="#1f84ca"/>
<circle cx="125.16" cy="53.01" r="0.5" fill="#1f84ca"/>
<circle cx="132.86" cy="47.91" r="0.5" fill="#1f84ca"/>
<circle cx="126.37" cy="59.71" r="0.5" fill="#1f84ca"/>
<circle cx="126.85" cy="66.67" r="0.5" fill="#1f84ca"/>
<circle cx="110.75" cy="58.36" r="0.5" fill="#1f84ca"/>
<circle cx="116.08" cy="60.01" r="0.5" fill="#1f84ca"/>
<circle cx="133.32" cy="58.85" r="0.5" fill="#1f84ca"/>
<circle cx="104.35" cy="52.72" r="0.5" fill="#1f84ca"/>
<circle cx="125.35" cy="67.8" r="0.5" fill="#1f84ca"/>
<circle cx="76.5" cy="116.53" r="0.5" fill="#cdbde0"/>
<circle cx="70.17" cy="117.55" r="0.5" fill="#cdbde0"/>
<circle cx="77.29" cy="114.85" r="0.5" fill="#cdbde0"/>
<circle cx="79.05" cy="117.08" r="0.5" fill="#cdbde0"/>
<circle cx="71" cy="116.52" r="0.5" fill="#cdbde0"/>
<g filter="url(#spk2)">
<path d="M6 21C6.4 19.7 12.2 18.9 14 19C15.8 19.1 22 21.1 24 22C26 22.9 32.6 26.7 34 28C35.4 29.3 38.4 34.1 38 35C37.6 35.9 31.8 37.2 30 37C28.2 36.8 22 33.5 20 33C18 32.5 11.4 33.2 10 32C8.6 30.8 5.6 22.3 6 21Z" fill="#f8c8a0"/>
<path d="M91.5 5.8C92.78 5.16 99.02 7.88 101.1 9C103.18 10.12 110.54 15.09 112.3 17C114.06 18.91 117.91 26.19 118.7 28.1C119.49 30.01 121.32 35.14 120.2 36.1C119.08 37.06 110.21 37.86 107.5 37.7C104.79 37.54 95.26 35.62 93.1 34.5C90.94 33.38 86.38 28.41 85.9 26.5C85.42 24.59 87.74 17.47 88.3 15.4C88.86 13.33 90.22 6.44 91.5 5.8Z" fill="#a86a62"/>
</g>
<g filter="url(#spk)">
<path d="M40 33C40.8 32.3 48 36.1 50 37C52 37.9 58 41.1 60 42C62 42.9 68.4 45 70 46C71.6 47 75.2 50.4 76 52C76.8 53.6 77.6 60 78 62C78.4 64 80 69.8 80 72C80 74.2 79 82.4 78 84C77 85.6 71.4 88.4 70 88C68.6 87.6 65 81.8 64 80C63 78.2 61 71.8 60 70C59 68.2 55.4 63.6 54 62C52.6 60.4 47.2 55.8 46 54C44.8 52.2 42.6 46.1 42 44C41.4 41.9 39.2 33.7 40 33Z" fill="#f5c3da" fill-opacity="0.95"/>
<path d="M28.7 39.8C29.51 38.99 37.59 38.99 39.2 39.8C40.81 40.61 44.64 46.45 44.8 47.9C44.96 49.35 41.85 53.5 40.8 54.3C39.75 55.1 35.27 56.54 34.3 55.9C33.33 55.26 31.66 49.51 31.1 47.9C30.54 46.29 27.89 40.61 28.7 39.8Z" fill="#b9bf6a"/>
<path d="M88.3 2.6C89.18 2.28 92.46 4.36 92.3 5.8C92.14 7.24 87.9 14.93 86.7 17C85.5 19.07 81.89 25.39 80.3 26.5C78.71 27.61 72.07 28.42 70.8 28.1C69.53 27.78 67.12 24.41 67.6 23.3C68.08 22.19 74.01 18.43 75.6 17C77.19 15.57 82.23 10.44 83.5 9C84.77 7.56 87.42 2.92 88.3 2.6Z" fill="#a3dc95" fill-opacity="0.9"/>
<path d="M67.7 68.4C68.56 67.71 74.06 69.5 76.3 70.2C78.54 70.9 88.02 74.54 90.1 75.4C92.18 76.26 96.75 77.59 97.1 78.8C97.45 80.01 94.99 86.46 93.6 87.5C92.21 88.54 85.28 89.38 83.2 89.2C81.12 89.02 74.35 86.91 72.8 85.7C71.25 84.49 68.21 78.83 67.7 77.1C67.19 75.37 66.84 69.09 67.7 68.4Z" fill="#ea92c8" fill-opacity="0.95"/>
<path d="M39.1 80.5C40.14 79.89 48.06 81.22 50.4 81.4C52.74 81.58 61.12 81 62.5 82.3C63.88 83.6 64.38 92.59 64.2 94.4C64.02 96.21 61.74 99.88 60.7 100.4C59.66 100.92 55.35 100.2 53.8 99.6C52.25 99 46.58 95.61 45.2 94.4C43.82 93.19 40.61 88.89 40 87.5C39.39 86.11 38.06 81.11 39.1 80.5Z" fill="#8f4cba"/>
<path d="M34.8 59.8C35.49 58.24 39.97 55.29 41.7 54.6C43.43 53.91 50.02 52.38 52.1 52.9C54.18 53.42 60.94 57.73 62.5 59.8C64.06 61.87 67.53 71.53 67.7 73.6C67.87 75.67 65.93 79.72 64.2 80.5C62.47 81.28 53 81.57 50.4 81.4C47.8 81.23 39.76 79.92 38.2 78.8C36.64 77.68 35.14 72.1 34.8 70.2C34.46 68.3 34.11 61.36 34.8 59.8Z" fill="#1ea677"/>
<path d="M70.8 45.7C71.12 44.1 75.45 39.14 77.2 37.7C78.95 36.26 86.23 31.62 88.3 31.3C90.37 30.98 95.98 33.7 97.9 34.5C99.82 35.3 106.7 38.34 107.5 39.3C108.3 40.26 107.34 43.46 105.9 44.1C104.46 44.74 95.5 44.9 93.1 45.7C90.7 46.5 83.81 51.3 81.9 52.1C79.99 52.9 75.11 54.34 74 53.7C72.89 53.06 70.48 47.3 70.8 45.7Z" fill="#e42c33"/>
<path d="M81.9 45.7C84.3 44.1 100.14 42.34 102.7 42.5C105.26 42.66 106.86 45.23 107.5 47.3C108.14 49.37 109.58 60.98 109.1 63.2C108.62 65.42 105.1 69.02 102.7 69.5C100.3 69.98 87.5 69.1 85.1 68C82.7 66.9 79.02 60.73 78.7 58.5C78.38 56.27 79.5 47.3 81.9 45.7Z" fill="#f8831c"/>
<path d="M105.9 39.3C106.94 37.86 115.03 36.1 117.1 36.1C119.17 36.1 125.09 38.18 126.6 39.3C128.11 40.42 131.72 45.22 132.2 47.3C132.68 49.38 132.28 58.03 131.4 60.1C130.52 62.17 125.15 67.06 123.4 68C121.65 68.94 115.33 69.98 113.9 69.5C112.47 69.02 109.82 65.1 109.1 63.2C108.38 61.3 107.02 52.89 106.7 50.5C106.38 48.11 104.86 40.74 105.9 39.3Z" fill="#1f84ca"/>
<path d="M93.6 70.2C94.2 69.51 100.62 68.52 102 68.5C103.38 68.48 107.2 69.31 107.4 70C107.6 70.69 105.14 74.86 104 75.4C102.86 75.94 97.04 75.92 96 75.4C94.96 74.88 93 70.89 93.6 70.2Z" fill="#40c0d4" fill-opacity="0.9"/>
</g>
<text x="20.7" y="29.3" font-size="5.1" text-anchor="middle" font-weight="bold" fill="#111" class="thin">Gran</text>
<text x="57.5" y="24.5" font-size="5.1" text-anchor="middle" font-weight="bold" fill="#111" class="thin">Mast</text>
<text x="79.5" y="20.5" font-size="5.1" text-anchor="middle" font-weight="bold" fill="#111" class="thin">Ery</text>
<text x="105" y="27.8" font-size="5.1" text-anchor="middle" font-weight="bold" fill="#111" class="thin">My</text>
<text x="35.3" y="50.5" font-size="5.1" text-anchor="middle" font-weight="bold" fill="#111" class="thin">GMP</text>
<text x="63" y="55.3" font-size="5.1" text-anchor="middle" font-weight="bold" fill="#111" class="thin">MPP2</text>
<text x="82.2" y="45.4" font-size="5.1" text-anchor="middle" font-weight="bold" fill="#111" class="thin">cHSC</text>
<text x="94.9" y="61.2" font-size="5.1" text-anchor="middle" font-weight="bold" fill="#111" class="thin">aHSC</text>
<text x="116.3" y="55.3" font-size="5.1" text-anchor="middle" font-weight="bold" fill="#111" class="thin">qHSC</text>
<text x="53.5" y="70" font-size="5.1" text-anchor="middle" font-weight="bold" fill="#111" class="thin">MPP3</text>
<text x="81.5" y="79.3" font-size="5.1" text-anchor="middle" font-weight="bold" fill="#111" class="thin">MPP1</text>
<text x="103.9" y="74" font-size="5.1" text-anchor="middle" font-weight="bold" fill="#111" class="thin">LMP</text>
<text x="52.7" y="90" font-size="5.1" text-anchor="middle" font-weight="bold" fill="#111" class="thin">MPP4</text>
<text x="96" y="96.2" font-size="5.1" text-anchor="middle" font-weight="bold" fill="#111" class="thin">pre-T</text>
<text x="85.6" y="102.1" font-size="5.1" text-anchor="middle" font-weight="bold" fill="#111" class="thin">Pre-B</text>
<text x="73" y="117.6" font-size="5.1" text-anchor="middle" font-weight="bold" fill="#111" class="thin">pre-DC</text>
</g>
<rect x="205.6" y="20.6" width="139.2" height="121.7" fill="none" stroke="#231f20" stroke-width="1.3"/>
<text x="439.3" y="15" font-size="9.6" text-anchor="middle" textLength="50" lengthAdjust="spacingAndGlyphs" class="nb">CML Nil 2w</text>
<text x="363" y="79.25" font-size="10.2" text-anchor="middle" fill="#333" textLength="24.8" lengthAdjust="spacingAndGlyphs" transform="rotate(-90 363 79.25)">UMAP2</text>
<text x="439.5" y="153.4" font-size="9.6" text-anchor="middle" fill="#333" textLength="24.5" lengthAdjust="spacingAndGlyphs">UMAP1</text>
<g transform="translate(368 20.6)">
<circle cx="53.24" cy="34.88" r="0.5" fill="#ecd6e6"/>
<circle cx="56.14" cy="36.08" r="0.5" fill="#ecd6e6"/>
<circle cx="61.77" cy="25.31" r="0.5" fill="#ecd6e6"/>
<circle cx="48.29" cy="40.75" r="0.5" fill="#ecd6e6"/>
<circle cx="53.71" cy="28.69" r="0.5" fill="#ecd6e6"/>
<circle cx="69.9" cy="33.41" r="0.5" fill="#ecd6e6"/>
<circle cx="66.4" cy="33.53" r="0.5" fill="#ecd6e6"/>
<circle cx="62.06" cy="27.01" r="0.5" fill="#ecd6e6"/>
<circle cx="61.97" cy="41.36" r="0.5" fill="#ecd6e6"/>
<circle cx="59.51" cy="38.83" r="0.5" fill="#ecd6e6"/>
<circle cx="62.77" cy="25.28" r="0.5" fill="#ecd6e6"/>
<circle cx="64.68" cy="35.82" r="0.5" fill="#ecd6e6"/>
<circle cx="54.63" cy="24.62" r="0.5" fill="#ecd6e6"/>
<circle cx="67.04" cy="33.45" r="0.5" fill="#ecd6e6"/>
<circle cx="63.81" cy="41.58" r="0.5" fill="#ecd6e6"/>
<circle cx="63.71" cy="42.42" r="0.5" fill="#ecd6e6"/>
<circle cx="56.69" cy="40.02" r="0.5" fill="#ecd6e6"/>
<circle cx="57.78" cy="42.71" r="0.5" fill="#ecd6e6"/>
<circle cx="67.34" cy="25.95" r="0.5" fill="#ecd6e6"/>
<circle cx="50.99" cy="28.34" r="0.5" fill="#ecd6e6"/>
<circle cx="69.24" cy="32.72" r="0.5" fill="#ecd6e6"/>
<circle cx="61.79" cy="30.02" r="0.5" fill="#ecd6e6"/>
<circle cx="59.16" cy="31.72" r="0.5" fill="#ecd6e6"/>
<circle cx="55.72" cy="35.7" r="0.5" fill="#ecd6e6"/>
<circle cx="60.85" cy="42.08" r="0.5" fill="#ecd6e6"/>
<circle cx="63" cy="42.58" r="0.5" fill="#ecd6e6"/>
<circle cx="66.84" cy="43.82" r="0.5" fill="#ecd6e6"/>
<circle cx="62.77" cy="27.26" r="0.5" fill="#ecd6e6"/>
<circle cx="66.93" cy="43.29" r="0.5" fill="#ecd6e6"/>
<circle cx="67.9" cy="35.38" r="0.5" fill="#ecd6e6"/>
<circle cx="63.7" cy="28.22" r="0.5" fill="#ecd6e6"/>
<circle cx="66.3" cy="35.47" r="0.5" fill="#ecd6e6"/>
<circle cx="54.27" cy="25.27" r="0.5" fill="#ecd6e6"/>
<circle cx="66.79" cy="43.8" r="0.5" fill="#ecd6e6"/>
<circle cx="49.95" cy="40.01" r="0.5" fill="#ecd6e6"/>
<circle cx="101.85" cy="6.11" r="0.5" fill="#c9a5a0"/>
<circle cx="99.05" cy="14.76" r="0.5" fill="#c9a5a0"/>
<circle cx="112.95" cy="4.62" r="0.5" fill="#c9a5a0"/>
<circle cx="106.75" cy="4.63" r="0.5" fill="#c9a5a0"/>
<circle cx="109.24" cy="8.63" r="0.5" fill="#c9a5a0"/>
<circle cx="113.14" cy="17.73" r="0.5" fill="#c9a5a0"/>
<circle cx="104.13" cy="17.98" r="0.5" fill="#c9a5a0"/>
<circle cx="99.43" cy="5.08" r="0.5" fill="#c9a5a0"/>
<circle cx="106.39" cy="4.44" r="0.5" fill="#c9a5a0"/>
<circle cx="96.74" cy="9.71" r="0.5" fill="#c9a5a0"/>
<circle cx="106.65" cy="6.19" r="0.5" fill="#c9a5a0"/>
<circle cx="93.02" cy="16.15" r="0.5" fill="#c9a5a0"/>
<circle cx="99.53" cy="17.42" r="0.5" fill="#c9a5a0"/>
<circle cx="113.52" cy="9.29" r="0.5" fill="#c9a5a0"/>
<circle cx="103.05" cy="11.28" r="0.5" fill="#c9a5a0"/>
<circle cx="107.45" cy="12.34" r="0.5" fill="#c9a5a0"/>
<circle cx="105.42" cy="12.68" r="0.5" fill="#c9a5a0"/>
<circle cx="114.57" cy="11.1" r="0.5" fill="#c9a5a0"/>
<circle cx="102.35" cy="14.08" r="0.5" fill="#c9a5a0"/>
<circle cx="97.7" cy="8.22" r="0.5" fill="#c9a5a0"/>
<circle cx="115.47" cy="11.3" r="0.5" fill="#c9a5a0"/>
<circle cx="105.16" cy="4.16" r="0.5" fill="#c9a5a0"/>
<circle cx="101.97" cy="12.12" r="0.5" fill="#c9a5a0"/>
<circle cx="92.48" cy="12.62" r="0.5" fill="#c9a5a0"/>
<circle cx="107.17" cy="4.84" r="0.5" fill="#c9a5a0"/>
<circle cx="107.06" cy="10.53" r="0.5" fill="#c9a5a0"/>
<circle cx="108.3" cy="8.94" r="0.5" fill="#c9a5a0"/>
<circle cx="108.97" cy="14.33" r="0.5" fill="#c9a5a0"/>
<circle cx="92.53" cy="4.85" r="0.5" fill="#c9a5a0"/>
<circle cx="108.22" cy="17.49" r="0.5" fill="#c9a5a0"/>
<circle cx="88.01" cy="6.93" r="0.5" fill="#a3dc95"/>
<circle cx="90.74" cy="5.16" r="0.5" fill="#a3dc95"/>
<circle cx="88.91" cy="5.06" r="0.5" fill="#a3dc95"/>
<circle cx="88.95" cy="8.74" r="0.5" fill="#a3dc95"/>
<circle cx="88.4" cy="5.9" r="0.5" fill="#a3dc95"/>
<circle cx="92.18" cy="1.35" r="0.5" fill="#a3dc95"/>
<circle cx="90.55" cy="10.56" r="0.5" fill="#a3dc95"/>
<circle cx="88.48" cy="3.89" r="0.5" fill="#a3dc95"/>
<circle cx="92.43" cy="4.1" r="0.5" fill="#a3dc95"/>
<circle cx="87.5" cy="6.66" r="0.5" fill="#a3dc95"/>
<circle cx="91.58" cy="2.32" r="0.5" fill="#a3dc95"/>
<circle cx="88.58" cy="5.34" r="0.5" fill="#a3dc95"/>
<circle cx="102.34" cy="89.26" r="0.5" fill="#cdbde0"/>
<circle cx="102.82" cy="86.03" r="0.5" fill="#cdbde0"/>
<circle cx="91.41" cy="91.8" r="0.5" fill="#cdbde0"/>
<circle cx="103.47" cy="89.41" r="0.5" fill="#cdbde0"/>
<circle cx="88.95" cy="85.45" r="0.5" fill="#cdbde0"/>
<circle cx="95.65" cy="86.29" r="0.5" fill="#cdbde0"/>
<circle cx="101.75" cy="94.06" r="0.5" fill="#cdbde0"/>
<circle cx="88.04" cy="87.34" r="0.5" fill="#cdbde0"/>
<circle cx="101.76" cy="91.7" r="0.5" fill="#cdbde0"/>
<circle cx="101.74" cy="88.14" r="0.5" fill="#cdbde0"/>
<circle cx="86.85" cy="87.5" r="0.5" fill="#cdbde0"/>
<circle cx="101.46" cy="87.25" r="0.5" fill="#cdbde0"/>
<circle cx="91.62" cy="89" r="0.5" fill="#cdbde0"/>
<circle cx="93.23" cy="88.91" r="0.5" fill="#cdbde0"/>
<circle cx="104.25" cy="85.87" r="0.5" fill="#cdbde0"/>
<circle cx="84.1" cy="95.32" r="0.5" fill="#cdbde0"/>
<circle cx="103.36" cy="95.84" r="0.5" fill="#cdbde0"/>
<circle cx="93.56" cy="95.4" r="0.5" fill="#cdbde0"/>
<circle cx="104.4" cy="86.67" r="0.5" fill="#cdbde0"/>
<circle cx="100.4" cy="94.04" r="0.5" fill="#cdbde0"/>
<circle cx="24.23" cy="27.34" r="0.5" fill="#fbc9a0"/>
<circle cx="13.38" cy="24.14" r="0.5" fill="#fbc9a0"/>
<circle cx="11.6" cy="19.23" r="0.5" fill="#fbc9a0"/>
<circle cx="22.07" cy="23.17" r="0.5" fill="#fbc9a0"/>
<circle cx="28.5" cy="18.81" r="0.5" fill="#fbc9a0"/>
<circle cx="31.2" cy="30.49" r="0.5" fill="#fbc9a0"/>
<circle cx="31.79" cy="34.14" r="0.5" fill="#fbc9a0"/>
<circle cx="31.09" cy="28.39" r="0.5" fill="#fbc9a0"/>
<circle cx="5.38" cy="31.42" r="0.5" fill="#fbc9a0"/>
<circle cx="9.98" cy="23.4" r="0.5" fill="#fbc9a0"/>
<circle cx="24.22" cy="27.45" r="0.5" fill="#fbc9a0"/>
<circle cx="17" cy="34.9" r="0.5" fill="#fbc9a0"/>
<circle cx="22.75" cy="24.14" r="0.5" fill="#fbc9a0"/>
<circle cx="12.32" cy="33.51" r="0.5" fill="#fbc9a0"/>
<circle cx="18.84" cy="32.08" r="0.5" fill="#fbc9a0"/>
<circle cx="15.2" cy="21.55" r="0.5" fill="#fbc9a0"/>
<circle cx="20.5" cy="32.7" r="0.5" fill="#fbc9a0"/>
<circle cx="9.97" cy="32.25" r="0.5" fill="#fbc9a0"/>
<circle cx="31.73" cy="32.51" r="0.5" fill="#fbc9a0"/>
<circle cx="28.88" cy="18.14" r="0.5" fill="#fbc9a0"/>
<circle cx="23.23" cy="33.53" r="0.5" fill="#fbc9a0"/>
<circle cx="6.45" cy="22.89" r="0.5" fill="#fbc9a0"/>
<circle cx="12.79" cy="27.49" r="0.5" fill="#fbc9a0"/>
<circle cx="17.27" cy="26.51" r="0.5" fill="#fbc9a0"/>
<circle cx="27.52" cy="18.03" r="0.5" fill="#fbc9a0"/>
<circle cx="6.59" cy="20.28" r="0.5" fill="#fbc9a0"/>
<circle cx="8.61" cy="19.23" r="0.5" fill="#fbc9a0"/>
<circle cx="33.27" cy="33.38" r="0.5" fill="#fbc9a0"/>
<circle cx="7.5" cy="27.04" r="0.5" fill="#fbc9a0"/>
<circle cx="14.16" cy="23.66" r="0.5" fill="#fbc9a0"/>
<circle cx="15.19" cy="29.64" r="0.5" fill="#fbc9a0"/>
<circle cx="22.01" cy="24.5" r="0.5" fill="#fbc9a0"/>
<circle cx="10.54" cy="23.92" r="0.5" fill="#fbc9a0"/>
<circle cx="8.59" cy="28" r="0.5" fill="#fbc9a0"/>
<circle cx="25.77" cy="24.84" r="0.5" fill="#fbc9a0"/>
<circle cx="28.2" cy="32.14" r="0.5" fill="#b9bf6a"/>
<circle cx="32.6" cy="37.25" r="0.5" fill="#b9bf6a"/>
<circle cx="38.74" cy="34.56" r="0.5" fill="#b9bf6a"/>
<circle cx="39.02" cy="37.48" r="0.5" fill="#b9bf6a"/>
<circle cx="33.47" cy="34.47" r="0.5" fill="#b9bf6a"/>
<circle cx="34.44" cy="38.43" r="0.5" fill="#b9bf6a"/>
<circle cx="33.31" cy="38.33" r="0.5" fill="#b9bf6a"/>
<circle cx="33.91" cy="32.94" r="0.5" fill="#b9bf6a"/>
<circle cx="35.04" cy="38.34" r="0.5" fill="#b9bf6a"/>
<circle cx="28.07" cy="35.1" r="0.5" fill="#b9bf6a"/>
<circle cx="33.39" cy="40.56" r="0.5" fill="#b9bf6a"/>
<circle cx="41.05" cy="34.49" r="0.5" fill="#b9bf6a"/>
<circle cx="40.47" cy="39.49" r="0.5" fill="#b9bf6a"/>
<circle cx="30.93" cy="35.57" r="0.5" fill="#b9bf6a"/>
<circle cx="28.85" cy="39.76" r="0.5" fill="#b9bf6a"/>
<circle cx="48.57" cy="51.1" r="0.5" fill="#1ea677"/>
<circle cx="51.43" cy="49.34" r="0.5" fill="#1ea677"/>
<circle cx="50.14" cy="48.51" r="0.5" fill="#1ea677"/>
<circle cx="36.27" cy="48.7" r="0.5" fill="#1ea677"/>
<circle cx="34.11" cy="45.15" r="0.5" fill="#1ea677"/>
<circle cx="51.03" cy="44.35" r="0.5" fill="#1ea677"/>
<circle cx="36.02" cy="44.79" r="0.5" fill="#1ea677"/>
<circle cx="53.37" cy="45.43" r="0.5" fill="#1ea677"/>
<circle cx="34.52" cy="50.73" r="0.5" fill="#1ea677"/>
<circle cx="36.67" cy="50.75" r="0.5" fill="#1ea677"/>
<circle cx="48.82" cy="50.69" r="0.5" fill="#1ea677"/>
<circle cx="54.95" cy="48.63" r="0.5" fill="#1ea677"/>
<circle cx="51.57" cy="44.29" r="0.5" fill="#1ea677"/>
<circle cx="50.88" cy="48.09" r="0.5" fill="#1ea677"/>
<circle cx="49.73" cy="44.85" r="0.5" fill="#1ea677"/>
<circle cx="50.48" cy="51.48" r="0.5" fill="#1ea677"/>
<circle cx="35.35" cy="46.59" r="0.5" fill="#1ea677"/>
<circle cx="46.41" cy="50.62" r="0.5" fill="#1ea677"/>
<circle cx="39.33" cy="45.44" r="0.5" fill="#1ea677"/>
<circle cx="39.5" cy="48.93" r="0.5" fill="#1ea677"/>
<circle cx="77.07" cy="79.09" r="0.5" fill="#f5c3da"/>
<circle cx="69.35" cy="79.14" r="0.5" fill="#f5c3da"/>
<circle cx="69.01" cy="79.53" r="0.5" fill="#f5c3da"/>
<circle cx="63.67" cy="81.01" r="0.5" fill="#f5c3da"/>
<circle cx="81.46" cy="79.43" r="0.5" fill="#f5c3da"/>
<circle cx="76.95" cy="74.89" r="0.5" fill="#f5c3da"/>
<circle cx="75.82" cy="85.61" r="0.5" fill="#f5c3da"/>
<circle cx="75.48" cy="81.31" r="0.5" fill="#f5c3da"/>
<circle cx="71.67" cy="83.57" r="0.5" fill="#f5c3da"/>
<circle cx="79.95" cy="74.69" r="0.5" fill="#f5c3da"/>
<circle cx="63.92" cy="85.47" r="0.5" fill="#f5c3da"/>
<circle cx="80.33" cy="81.31" r="0.5" fill="#f5c3da"/>
<circle cx="70.86" cy="84.94" r="0.5" fill="#f5c3da"/>
<circle cx="65.72" cy="76.81" r="0.5" fill="#f5c3da"/>
<circle cx="65.98" cy="82.54" r="0.5" fill="#f5c3da"/>
<circle cx="68.3" cy="76.18" r="0.5" fill="#f5c3da"/>
<circle cx="75.82" cy="89.16" r="0.5" fill="#f5c3da"/>
<circle cx="67.92" cy="84.7" r="0.5" fill="#f5c3da"/>
<circle cx="70.26" cy="87.37" r="0.5" fill="#f5c3da"/>
<circle cx="73.69" cy="76.81" r="0.5" fill="#f5c3da"/>
<circle cx="112.96" cy="30.88" r="0.5" fill="#1f84ca"/>
<circle cx="121.34" cy="44.54" r="0.5" fill="#1f84ca"/>
<circle cx="111.51" cy="43.7" r="0.5" fill="#1f84ca"/>
<circle cx="116.31" cy="59.42" r="0.5" fill="#1f84ca"/>
<circle cx="110.6" cy="67.67" r="0.5" fill="#1f84ca"/>
<circle cx="121.35" cy="52.76" r="0.5" fill="#1f84ca"/>
<circle cx="120.98" cy="61.72" r="0.5" fill="#1f84ca"/>
<circle cx="132.29" cy="51.17" r="0.5" fill="#1f84ca"/>
<circle cx="121.4" cy="57.39" r="0.5" fill="#1f84ca"/>
<circle cx="133.41" cy="45.21" r="0.5" fill="#1f84ca"/>
<circle cx="129.47" cy="66.49" r="0.5" fill="#1f84ca"/>
<circle cx="120.96" cy="38.72" r="0.5" fill="#1f84ca"/>
<circle cx="113.51" cy="57.27" r="0.5" fill="#1f84ca"/>
<circle cx="127.61" cy="66.43" r="0.5" fill="#1f84ca"/>
<circle cx="133.32" cy="39.2" r="0.5" fill="#1f84ca"/>
<circle cx="112.07" cy="39.83" r="0.5" fill="#1f84ca"/>
<circle cx="111.99" cy="56.78" r="0.5" fill="#1f84ca"/>
<circle cx="133.48" cy="64.19" r="0.5" fill="#1f84ca"/>
<circle cx="114.16" cy="62.87" r="0.5" fill="#1f84ca"/>
<circle cx="116.03" cy="46.09" r="0.5" fill="#1f84ca"/>
<circle cx="129.33" cy="33.27" r="0.5" fill="#1f84ca"/>
<circle cx="108.96" cy="61.69" r="0.5" fill="#1f84ca"/>
<circle cx="115.34" cy="43.55" r="0.5" fill="#1f84ca"/>
<circle cx="124.57" cy="55.67" r="0.5" fill="#1f84ca"/>
<circle cx="106.22" cy="42.72" r="0.5" fill="#1f84ca"/>
<circle cx="119.96" cy="48.46" r="0.5" fill="#1f84ca"/>
<circle cx="112.72" cy="52.23" r="0.5" fill="#1f84ca"/>
<circle cx="136.57" cy="44.85" r="0.5" fill="#1f84ca"/>
<circle cx="123.42" cy="34.53" r="0.5" fill="#1f84ca"/>
<circle cx="114.79" cy="55.29" r="0.5" fill="#1f84ca"/>
<circle cx="72.9" cy="109.1" r="0.5" fill="#cdbde0"/>
<circle cx="79.27" cy="102.78" r="0.5" fill="#cdbde0"/>
<circle cx="79.53" cy="104.99" r="0.5" fill="#cdbde0"/>
<circle cx="78.18" cy="108.06" r="0.5" fill="#cdbde0"/>
<circle cx="74.36" cy="107.41" r="0.5" fill="#cdbde0"/>
<g filter="url(#spk2)">
<path d="M6 22C6.4 21.2 12.2 19.8 14 20C15.8 20.2 22.3 23 24 24C25.7 25 30.6 29 31 30C31.4 31 29.1 34 28 34C26.9 34 21.8 30.6 20 30C18.2 29.4 11.4 28.8 10 28C8.6 27.2 5.6 22.8 6 22Z" fill="#f8c8a0"/>
<path d="M87.5 22C88.31 20.55 95.1 17.52 97.2 17.2C99.3 16.88 106.4 17.99 108.5 18.8C110.6 19.61 116.75 24.01 118.2 25.3C119.65 26.59 123.49 30.82 123 31.7C122.51 32.58 115.56 34.1 113.3 34.1C111.04 34.1 102.82 31.94 100.4 31.7C97.98 31.46 90.39 32.67 89.1 31.7C87.81 30.73 86.69 23.45 87.5 22Z" fill="#a86a62"/>
</g>
<g filter="url(#spk)">
<path d="M40 34C40.7 33 52.2 35.4 55 36C57.8 36.6 65.5 38.6 68 40C70.5 41.4 78.2 48.4 80 50C81.8 51.6 85.4 54.68 86 56C86.6 57.32 86.6 62.4 86 63.2C85.4 64 81.6 64.32 80 64C78.4 63.68 72 60.9 70 60C68 59.1 62.2 56.4 60 55C57.8 53.6 50 48.1 48 46C46 43.9 39.3 35 40 34Z" fill="#f5c3da" fill-opacity="0.55"/>
<path d="M60 39C60.7 38.5 67.8 43.9 70 45C72.2 46.1 80.4 48.5 82 50C83.6 51.5 86 58.6 86 60C86 61.4 83.4 64.2 82 64C80.6 63.8 73.9 59.4 72 58C70.1 56.6 64.2 51.9 63 50C61.8 48.1 59.3 39.5 60 39Z" fill="#f5c3da" fill-opacity="0.9"/>
<path d="M69.7 17.2C70.51 16.4 76.19 15.6 77.8 15.6C79.41 15.6 85.16 16.23 85.8 17.2C86.44 18.17 85.16 24.33 84.2 25.3C83.24 26.27 77.65 27.07 76.2 26.9C74.75 26.73 70.35 24.57 69.7 23.6C69.05 22.63 68.89 18 69.7 17.2Z" fill="#a3dc95" fill-opacity="0.9"/>
<path d="M70.4 59.8C71.44 58.76 80.17 63.96 82.6 65C85.03 66.04 93.15 69.16 94.7 70.2C96.25 71.24 98.62 74.54 98.1 75.4C97.58 76.26 91.4 78.37 89.5 78.8C87.6 79.23 80.83 80.04 79.1 79.7C77.37 79.36 73.07 77.39 72.2 75.4C71.33 73.41 69.36 60.84 70.4 59.8Z" fill="#ea92c8" fill-opacity="0.95"/>
<path d="M39.3 71.9C40.17 71.13 47.1 72.63 49.7 72.8C52.3 72.97 63.23 72.65 65.3 73.6C67.37 74.55 70.23 80.91 70.4 82.3C70.57 83.69 68.21 86.64 67 87.5C65.79 88.36 60.2 90.82 58.3 90.9C56.4 90.98 49.73 89.34 48 88.3C46.27 87.26 41.87 82.14 41 80.5C40.13 78.86 38.43 72.67 39.3 71.9Z" fill="#8f4cba"/>
<path d="M35.8 61.5C36.15 59.6 41.07 54.11 42.8 52.9C44.53 51.69 51.2 49.23 53.1 49.4C55 49.57 60.24 52.87 61.8 54.6C63.36 56.33 68.35 64.97 68.7 66.7C69.05 68.43 67.37 71.29 65.3 71.9C63.23 72.51 50.6 72.8 48 72.8C45.4 72.8 40.52 73.03 39.3 71.9C38.08 70.77 35.45 63.4 35.8 61.5Z" fill="#1ea677"/>
<path d="M69.7 43C70.19 41.54 75.86 34.59 77.8 33.3C79.74 32.01 86.84 30.26 89.1 30.1C91.36 29.94 98.46 31.3 100.4 31.7C102.34 32.1 108.18 33.29 108.5 34.1C108.82 34.91 105.22 39.07 103.6 39.8C101.98 40.53 94.4 40.43 92.3 41.4C90.2 42.37 84.54 48.85 82.6 49.5C80.66 50.15 74.19 48.55 72.9 47.9C71.61 47.25 69.21 44.46 69.7 43Z" fill="#e42c33"/>
<path d="M82.6 47.9C83.73 46.37 90.04 41.57 92.3 40.6C94.56 39.63 103.58 38.12 105.2 38.2C106.82 38.28 107.85 39.95 108.5 41.4C109.15 42.85 111.38 50.76 111.7 52.7C112.02 54.64 112.83 59.67 111.7 60.8C110.57 61.93 102.82 63.84 100.4 64C97.98 64.16 89.44 63.21 87.5 62.4C85.56 61.59 81.49 57.35 81 55.9C80.51 54.45 81.47 49.43 82.6 47.9Z" fill="#f8831c"/>
<path d="M108.5 36.6C109.22 34.74 114.56 32.67 116.5 32.5C118.44 32.33 126.04 34.01 127.9 34.9C129.76 35.79 134.38 39.78 135.1 41.4C135.82 43.02 135.66 49.32 135.1 51.1C134.54 52.88 131.03 57.91 129.5 59.2C127.97 60.49 121.58 63.68 119.8 64C118.02 64.32 112.75 63.69 111.7 62.4C110.65 61.11 109.62 53.68 109.3 51.1C108.98 48.52 107.78 38.46 108.5 36.6Z" fill="#1f84ca"/>
<path d="M100 63C100.6 62.51 106.7 62.3 108 62.4C109.3 62.5 112.8 63.44 113 64C113.2 64.56 111.1 67.67 110 68C108.9 68.33 103 67.8 102 67.3C101 66.8 99.4 63.49 100 63Z" fill="#40c0d4" fill-opacity="0.9"/>
</g>
<text x="17.5" y="28.7" font-size="5.1" text-anchor="middle" font-weight="bold" fill="#111" class="thin">Gran</text>
<text x="58.2" y="30.1" font-size="5.1" text-anchor="middle" font-weight="bold" fill="#111" class="thin">Mast</text>
<text x="80.3" y="22.6" font-size="5.1" text-anchor="middle" font-weight="bold" fill="#111" class="thin">Ery</text>
<text x="103.9" y="27.3" font-size="5.1" text-anchor="middle" font-weight="bold" fill="#111" class="thin">My</text>
<text x="35.3" y="40" font-size="5.1" text-anchor="middle" font-weight="bold" fill="#111" class="thin">GMP</text>
<text x="71.5" y="54.4" font-size="5.1" text-anchor="middle" font-weight="bold" fill="#111" class="thin">MPP2</text>
<text x="83.1" y="41.4" font-size="5.1" text-anchor="middle" font-weight="bold" fill="#111" class="thin">cHSC</text>
<text x="98.1" y="55.3" font-size="5.1" text-anchor="middle" font-weight="bold" fill="#111" class="thin">aHSC</text>
<text x="120" y="49.7" font-size="5.1" text-anchor="middle" font-weight="bold" fill="#111" class="thin">qHSC</text>
<text x="54.4" y="66.1" font-size="5.1" text-anchor="middle" font-weight="bold" fill="#111" class="thin">MPP3</text>
<text x="85.6" y="73.3" font-size="5.1" text-anchor="middle" font-weight="bold" fill="#111" class="thin">MPP1</text>
<text x="107.6" y="67.5" font-size="5.1" text-anchor="middle" font-weight="bold" fill="#111" class="thin">LMP</text>
<text x="53.5" y="82.1" font-size="5.1" text-anchor="middle" font-weight="bold" fill="#111" class="thin">MPP4</text>
<text x="88" y="91.8" font-size="5.1" text-anchor="middle" font-weight="bold" fill="#111" class="thin">Pre-B</text>
<text x="102" y="89.1" font-size="5.1" text-anchor="middle" font-weight="bold" fill="#111" class="thin">pre-T</text>
<text x="75.2" y="106.5" font-size="5.1" text-anchor="middle" font-weight="bold" fill="#111" class="thin">pre-DC</text>
</g>
<rect x="368" y="20.6" width="143" height="121.7" fill="none" stroke="#231f20" stroke-width="1.3"/>
<line x1="47.5" y1="197.5" x2="47.5" y2="300" stroke="#231f20" stroke-width="1.05"/>
<line x1="47.1" y1="299.5" x2="201.7" y2="299.5" stroke="#231f20" stroke-width="1.05"/>
<line x1="44.6" y1="299.5" x2="47.6" y2="299.5" stroke="#231f20" stroke-width="1.05"/>
<text x="41.2" y="302.2" font-size="7.9" text-anchor="end">0</text>
<line x1="44.6" y1="266.5" x2="47.6" y2="266.5" stroke="#231f20" stroke-width="1.05"/>
<text x="41.2" y="269.1" font-size="7.9" text-anchor="end">10</text>
<line x1="44.6" y1="233.5" x2="47.6" y2="233.5" stroke="#231f20" stroke-width="1.05"/>
<text x="41.2" y="236" font-size="7.9" text-anchor="end">20</text>
<line x1="44.6" y1="200.5" x2="47.6" y2="200.5" stroke="#231f20" stroke-width="1.05"/>
<text x="41.2" y="202.9" font-size="7.9" text-anchor="end">30</text>
<text x="27.4" y="248.4" font-size="8.6" text-anchor="middle" textLength="25.2" lengthAdjust="spacingAndGlyphs" transform="rotate(-90 27.4 248.4)">Percent</text>
<line x1="56.5" y1="299.4" x2="56.5" y2="302.2" stroke="#231f20" stroke-width="1.05"/>
<text x="59.3" y="309.2" font-size="7.8" text-anchor="end" transform="rotate(-45 59.3 309.2)">qHSC</text>
<line x1="78.5" y1="299.4" x2="78.5" y2="302.2" stroke="#231f20" stroke-width="1.05"/>
<text x="81.9" y="309.2" font-size="7.8" text-anchor="end" transform="rotate(-45 81.9 309.2)">aHSC</text>
<line x1="101.5" y1="299.4" x2="101.5" y2="302.2" stroke="#231f20" stroke-width="1.05"/>
<text x="104.5" y="309.2" font-size="7.8" text-anchor="end" transform="rotate(-45 104.5 309.2)">cHSC</text>
<line x1="124.5" y1="299.4" x2="124.5" y2="302.2" stroke="#231f20" stroke-width="1.05"/>
<text x="127.1" y="309.2" font-size="7.8" text-anchor="end" transform="rotate(-45 127.1 309.2)">MPP1</text>
<line x1="146.5" y1="299.4" x2="146.5" y2="302.2" stroke="#231f20" stroke-width="1.05"/>
<text x="149.9" y="309.2" font-size="7.8" text-anchor="end" transform="rotate(-45 149.9 309.2)">MPP2</text>
<line x1="170.5" y1="299.4" x2="170.5" y2="302.2" stroke="#231f20" stroke-width="1.05"/>
<text x="173.1" y="309.2" font-size="7.8" text-anchor="end" transform="rotate(-45 173.1 309.2)">MPP3</text>
<line x1="192.5" y1="299.4" x2="192.5" y2="302.2" stroke="#231f20" stroke-width="1.05"/>
<text x="195.7" y="309.2" font-size="7.8" text-anchor="end" transform="rotate(-45 195.7 309.2)">MPP4</text>
<circle cx="50.8" cy="237.5" r="1.5" fill="#1b3f73"/>
<circle cx="50.8" cy="246.11" r="1.5" fill="#1b3f73"/>
<circle cx="50.8" cy="248.09" r="1.5" fill="#1b3f73"/>
<circle cx="50.8" cy="249.75" r="1.5" fill="#1b3f73"/>
<circle cx="50.8" cy="257.03" r="1.5" fill="#1b3f73"/>
<line x1="49.6" y1="247.7" x2="52" y2="247.7" stroke="#1b3f73" stroke-width="0.6"/>
<circle cx="56.2" cy="223.27" r="1.5" fill="#c4122f"/>
<circle cx="56.2" cy="226.58" r="1.5" fill="#c4122f"/>
<circle cx="56.2" cy="228.9" r="1.5" fill="#c4122f"/>
<line x1="55" y1="226.25" x2="57.4" y2="226.25" stroke="#c4122f" stroke-width="0.6"/>
<circle cx="61.6" cy="218.64" r="1.5" fill="#4fb04a"/>
<circle cx="61.6" cy="237.5" r="1.5" fill="#4fb04a"/>
<line x1="60.4" y1="228.07" x2="62.8" y2="228.07" stroke="#4fb04a" stroke-width="0.6"/>
<circle cx="73.4" cy="247.76" r="1.5" fill="#1b3f73"/>
<circle cx="73.4" cy="249.42" r="1.5" fill="#1b3f73"/>
<circle cx="73.4" cy="251.4" r="1.5" fill="#1b3f73"/>
<circle cx="73.4" cy="255.38" r="1.5" fill="#1b3f73"/>
<line x1="72.2" y1="250.99" x2="74.6" y2="250.99" stroke="#1b3f73" stroke-width="0.6"/>
<circle cx="78.8" cy="234.85" r="1.5" fill="#c4122f"/>
<circle cx="78.8" cy="236.84" r="1.5" fill="#c4122f"/>
<circle cx="78.8" cy="239.16" r="1.5" fill="#c4122f"/>
<line x1="77.6" y1="236.95" x2="80" y2="236.95" stroke="#c4122f" stroke-width="0.6"/>
<circle cx="84.2" cy="224.59" r="1.5" fill="#4fb04a"/>
<circle cx="84.2" cy="226.25" r="1.5" fill="#4fb04a"/>
<circle cx="84.2" cy="227.57" r="1.5" fill="#4fb04a"/>
<line x1="83" y1="226.14" x2="85.4" y2="226.14" stroke="#4fb04a" stroke-width="0.6"/>
<circle cx="96" cy="270.27" r="1.5" fill="#1b3f73"/>
<circle cx="96" cy="271.6" r="1.5" fill="#1b3f73"/>
<circle cx="96" cy="273.91" r="1.5" fill="#1b3f73"/>
<circle cx="96" cy="275.24" r="1.5" fill="#1b3f73"/>
<line x1="94.8" y1="272.75" x2="97.2" y2="272.75" stroke="#1b3f73" stroke-width="0.6"/>
<circle cx="101.4" cy="271.6" r="1.5" fill="#c4122f"/>
<circle cx="106.8" cy="257.03" r="1.5" fill="#4fb04a"/>
<circle cx="118.6" cy="273.25" r="1.5" fill="#1b3f73"/>
<circle cx="118.6" cy="275.24" r="1.5" fill="#1b3f73"/>
<circle cx="118.6" cy="277.55" r="1.5" fill="#1b3f73"/>
<line x1="117.4" y1="275.35" x2="119.8" y2="275.35" stroke="#1b3f73" stroke-width="0.6"/>
<circle cx="124" cy="286.82" r="1.5" fill="#c4122f"/>
<circle cx="129.4" cy="283.84" r="1.5" fill="#4fb04a"/>
<circle cx="129.4" cy="286.82" r="1.5" fill="#4fb04a"/>
<circle cx="129.4" cy="289.14" r="1.5" fill="#4fb04a"/>
<line x1="128.2" y1="286.6" x2="130.6" y2="286.6" stroke="#4fb04a" stroke-width="0.6"/>
<circle cx="141.4" cy="266.3" r="1.5" fill="#1b3f73"/>
<circle cx="141.4" cy="268.62" r="1.5" fill="#1b3f73"/>
<circle cx="141.4" cy="270.6" r="1.5" fill="#1b3f73"/>
<circle cx="141.4" cy="272.26" r="1.5" fill="#1b3f73"/>
<line x1="140.2" y1="269.44" x2="142.6" y2="269.44" stroke="#1b3f73" stroke-width="0.6"/>
<circle cx="146.8" cy="273.91" r="1.5" fill="#c4122f"/>
<circle cx="146.8" cy="275.57" r="1.5" fill="#c4122f"/>
<circle cx="146.8" cy="277.88" r="1.5" fill="#c4122f"/>
<line x1="145.6" y1="275.79" x2="148" y2="275.79" stroke="#c4122f" stroke-width="0.6"/>
<circle cx="152.2" cy="284.5" r="1.5" fill="#4fb04a"/>
<circle cx="152.2" cy="286.16" r="1.5" fill="#4fb04a"/>
<line x1="151" y1="285.33" x2="153.4" y2="285.33" stroke="#4fb04a" stroke-width="0.6"/>
<circle cx="164.6" cy="247.76" r="1.5" fill="#1b3f73"/>
<circle cx="164.6" cy="249.42" r="1.5" fill="#1b3f73"/>
<circle cx="164.6" cy="250.74" r="1.5" fill="#1b3f73"/>
<circle cx="164.6" cy="253.72" r="1.5" fill="#1b3f73"/>
<circle cx="164.6" cy="257.03" r="1.5" fill="#1b3f73"/>
<circle cx="164.6" cy="261" r="1.5" fill="#1b3f73"/>
<line x1="163.4" y1="253.28" x2="165.8" y2="253.28" stroke="#1b3f73" stroke-width="0.6"/>
<circle cx="170" cy="267.62" r="1.5" fill="#c4122f"/>
<circle cx="175.4" cy="262.33" r="1.5" fill="#4fb04a"/>
<circle cx="175.4" cy="274.91" r="1.5" fill="#4fb04a"/>
<line x1="174.2" y1="268.62" x2="176.6" y2="268.62" stroke="#4fb04a" stroke-width="0.6"/>
<circle cx="187.2" cy="267.95" r="1.5" fill="#1b3f73"/>
<circle cx="187.2" cy="269.94" r="1.5" fill="#1b3f73"/>
<circle cx="187.2" cy="272.26" r="1.5" fill="#1b3f73"/>
<circle cx="187.2" cy="274.24" r="1.5" fill="#1b3f73"/>
<circle cx="187.2" cy="275.9" r="1.5" fill="#1b3f73"/>
<line x1="186" y1="272.06" x2="188.4" y2="272.06" stroke="#1b3f73" stroke-width="0.6"/>
<circle cx="192.6" cy="284.5" r="1.5" fill="#c4122f"/>
<circle cx="198" cy="268.62" r="1.5" fill="#4fb04a"/>
<circle cx="198" cy="275.9" r="1.5" fill="#4fb04a"/>
<line x1="196.8" y1="272.26" x2="199.2" y2="272.26" stroke="#4fb04a" stroke-width="0.6"/>
<circle cx="61.5" cy="211.9" r="1" fill="#231f20"/>
<circle cx="65.4" cy="211.9" r="1" fill="#231f20"/>
<circle cx="69.3" cy="211.9" r="1" fill="#231f20"/>
<circle cx="80.7" cy="218.1" r="1" fill="#231f20"/>
<circle cx="84.6" cy="218.1" r="1" fill="#231f20"/>
<circle cx="88.5" cy="218.1" r="1" fill="#231f20"/>
<circle cx="103.5" cy="250.9" r="1" fill="#231f20"/>
<circle cx="107.4" cy="250.9" r="1" fill="#231f20"/>
<circle cx="111.3" cy="250.9" r="1" fill="#231f20"/>
<circle cx="126.55" cy="271.5" r="1" fill="#231f20"/>
<circle cx="130.45" cy="271.5" r="1" fill="#231f20"/>
<circle cx="151.05" cy="261.2" r="1" fill="#231f20"/>
<circle cx="154.95" cy="261.2" r="1" fill="#231f20"/>
<circle cx="171.5" cy="245.3" r="1" fill="#231f20"/>
<circle cx="175.4" cy="245.3" r="1" fill="#231f20"/>
<circle cx="179.3" cy="245.3" r="1" fill="#231f20"/>
<line x1="49" y1="201.5" x2="106.2" y2="201.5" stroke="#555" stroke-width="1.05"/>
<text x="77.3" y="197" font-size="8.7" text-anchor="middle" textLength="31.4" lengthAdjust="spacingAndGlyphs">Enriched</text>
<line x1="116.3" y1="237.5" x2="171.5" y2="237.5" stroke="#555" stroke-width="1.05"/>
<text x="144.4" y="233" font-size="8.7" text-anchor="middle" textLength="33.2" lengthAdjust="spacingAndGlyphs">Depleted</text>
<circle cx="173.4" cy="201.1" r="1.45" fill="#1b3f73"/>
<text x="178.2" y="203.7" font-size="7.3">Vehicle</text>
<circle cx="173.4" cy="212" r="1.45" fill="#c4122f"/>
<text x="178.2" y="214.6" font-size="7.3">Nil 2d</text>
<circle cx="173.4" cy="223" r="1.45" fill="#4fb04a"/>
<text x="178.2" y="225.6" font-size="7.3">Nil 2w</text>
<text x="158.3" y="372.2" font-size="10.2" text-anchor="middle" textLength="72.7" lengthAdjust="spacingAndGlyphs" class="nb">TKI-persistent vs.</text>
<text x="158.6" y="383.8" font-size="10.2" text-anchor="middle" textLength="57.2" lengthAdjust="spacingAndGlyphs" class="nb">TKI-depleted</text>
<rect x="148.4" y="393.7" width="36.24" height="4.8" fill="#c8102e"/>
<line x1="112" y1="396.5" x2="115.2" y2="396.5" stroke="#231f20" stroke-width="1.05"/>
<text x="109.4" y="398.8" font-size="8.1" text-anchor="end">Ribosome</text>
<rect x="148.4" y="402.37" width="30.95" height="4.8" fill="#c8102e"/>
<line x1="112" y1="404.5" x2="115.2" y2="404.5" stroke="#231f20" stroke-width="1.05"/>
<text x="109.4" y="407.47" font-size="8.1" text-anchor="end">TNF Targets</text>
<rect x="148.4" y="411.04" width="30.45" height="4.8" fill="#c8102e"/>
<line x1="112" y1="413.5" x2="115.2" y2="413.5" stroke="#231f20" stroke-width="1.05"/>
<text x="109.4" y="416.14" font-size="8.1" text-anchor="end">HSC Genes</text>
<rect x="148.4" y="419.71" width="27.8" height="4.8" fill="#c8102e"/>
<line x1="112" y1="422.5" x2="115.2" y2="422.5" stroke="#231f20" stroke-width="1.05"/>
<text x="109.4" y="424.81" font-size="8.1" text-anchor="end">Quiescence</text>
<rect x="127.45" y="428.68" width="20.95" height="4.2" fill="#8ea2d2" stroke="#2e4a7a" stroke-width="0.8"/>
<line x1="112" y1="430.5" x2="115.2" y2="430.5" stroke="#231f20" stroke-width="1.05"/>
<text x="109.4" y="433.48" font-size="8.1" text-anchor="end">Pentose phosphate pathway</text>
<rect x="127.45" y="437.35" width="20.95" height="4.2" fill="#8ea2d2" stroke="#2e4a7a" stroke-width="0.8"/>
<line x1="112" y1="439.5" x2="115.2" y2="439.5" stroke="#231f20" stroke-width="1.05"/>
<text x="109.4" y="442.15" font-size="8.1" text-anchor="end">TCA cycle</text>
<rect x="126.62" y="446.02" width="21.78" height="4.2" fill="#8ea2d2" stroke="#2e4a7a" stroke-width="0.8"/>
<line x1="112" y1="448.5" x2="115.2" y2="448.5" stroke="#231f20" stroke-width="1.05"/>
<text x="109.4" y="450.82" font-size="8.1" text-anchor="end">Nucleotides metabolism</text>
<rect x="125.4" y="454.39" width="23" height="4.8" fill="#1a4a85"/>
<line x1="112" y1="456.5" x2="115.2" y2="456.5" stroke="#231f20" stroke-width="1.05"/>
<text x="109.4" y="459.49" font-size="8.1" text-anchor="end">MTORC1 Signaling</text>
<rect x="124.31" y="463.36" width="24.09" height="4.2" fill="#8ea2d2" stroke="#2e4a7a" stroke-width="0.8"/>
<line x1="112" y1="465.5" x2="115.2" y2="465.5" stroke="#231f20" stroke-width="1.05"/>
<text x="109.4" y="468.16" font-size="8.1" text-anchor="end">Glycolysis</text>
<rect x="124.31" y="472.03" width="24.09" height="4.2" fill="#8ea2d2" stroke="#2e4a7a" stroke-width="0.8"/>
<line x1="112" y1="474.5" x2="115.2" y2="474.5" stroke="#231f20" stroke-width="1.05"/>
<text x="109.4" y="476.83" font-size="8.1" text-anchor="end">Oxidative phosphorylation</text>
<rect x="123.64" y="480.7" width="24.76" height="4.2" fill="#8ea2d2" stroke="#2e4a7a" stroke-width="0.8"/>
<line x1="112" y1="482.5" x2="115.2" y2="482.5" stroke="#231f20" stroke-width="1.05"/>
<text x="109.4" y="485.5" font-size="8.1" text-anchor="end">Gly Ser Thr metabolism</text>
<rect x="123.74" y="489.07" width="24.66" height="4.8" fill="#1a4a85"/>
<line x1="112" y1="491.5" x2="115.2" y2="491.5" stroke="#231f20" stroke-width="1.05"/>
<text x="109.4" y="494.17" font-size="8.1" text-anchor="end">Proliferation</text>
<rect x="123.24" y="497.74" width="25.16" height="4.8" fill="#1a4a85"/>
<line x1="112" y1="500.5" x2="115.2" y2="500.5" stroke="#231f20" stroke-width="1.05"/>
<text x="109.4" y="502.84" font-size="8.1" text-anchor="end">E2F Targets</text>
<rect x="123.24" y="506.41" width="25.16" height="4.8" fill="#1a4a85"/>
<line x1="112" y1="508.5" x2="115.2" y2="508.5" stroke="#231f20" stroke-width="1.05"/>
<text x="109.4" y="511.51" font-size="8.1" text-anchor="end">Myc Targets V2</text>
<rect x="121.26" y="515.08" width="27.14" height="4.8" fill="#1a4a85"/>
<line x1="112" y1="517.5" x2="115.2" y2="517.5" stroke="#231f20" stroke-width="1.05"/>
<text x="109.4" y="520.18" font-size="8.1" text-anchor="end">Myc Targets V1</text>
<line x1="115.5" y1="388.5" x2="115.5" y2="524.5" stroke="#231f20" stroke-width="1.05"/>
<line x1="148.5" y1="388.5" x2="148.5" y2="524" stroke="#231f20" stroke-width="1.05"/>
<line x1="114.7" y1="524.5" x2="200.8" y2="524.5" stroke="#231f20" stroke-width="1.05"/>
<line x1="115.5" y1="524" x2="115.5" y2="527" stroke="#231f20" stroke-width="1.05"/>
<text x="115.3" y="537.2" font-size="7.8" text-anchor="middle">−2</text>
<line x1="131.5" y1="524" x2="131.5" y2="527" stroke="#231f20" stroke-width="1.05"/>
<text x="131.85" y="537.2" font-size="7.8" text-anchor="middle">−1</text>
<line x1="148.5" y1="524" x2="148.5" y2="527" stroke="#231f20" stroke-width="1.05"/>
<text x="148.4" y="537.2" font-size="7.8" text-anchor="middle">0</text>
<line x1="164.5" y1="524" x2="164.5" y2="527" stroke="#231f20" stroke-width="1.05"/>
<text x="164.95" y="537.2" font-size="7.8" text-anchor="middle">1</text>
<line x1="181.5" y1="524" x2="181.5" y2="527" stroke="#231f20" stroke-width="1.05"/>
<text x="181.5" y="537.2" font-size="7.8" text-anchor="middle">2</text>
<line x1="198.5" y1="524" x2="198.5" y2="527" stroke="#231f20" stroke-width="1.05"/>
<text x="198.05" y="537.2" font-size="7.8" text-anchor="middle">3</text>
<text x="158.6" y="549.3" font-size="8" text-anchor="middle">NES</text>
<rect x="264.95" y="239.35" width="5.3" height="17.05" fill="#8397c3"/>
<line x1="267.6" y1="239.35" x2="267.6" y2="237.34" stroke="#2f5f9e" stroke-width="0.8"/>
<line x1="266.2" y1="237.34" x2="269" y2="237.34" stroke="#2f5f9e" stroke-width="0.8"/>
<circle cx="268.6" cy="235.71" r="1.3" fill="#1b3f73"/>
<circle cx="267.6" cy="237.34" r="1.3" fill="#1b3f73"/>
<circle cx="268.8" cy="238.22" r="1.3" fill="#1b3f73"/>
<circle cx="266.8" cy="240.1" r="1.3" fill="#1b3f73"/>
<circle cx="268.1" cy="240.72" r="1.3" fill="#1b3f73"/>
<rect x="274.95" y="229.82" width="5.3" height="26.58" fill="#ec8a80"/>
<line x1="277.6" y1="229.82" x2="277.6" y2="228.18" stroke="#c8283a" stroke-width="0.8"/>
<line x1="276.2" y1="228.18" x2="279" y2="228.18" stroke="#c8283a" stroke-width="0.8"/>
<circle cx="276.3" cy="228.31" r="1.3" fill="#c4122f"/>
<circle cx="278.9" cy="229.06" r="1.3" fill="#c4122f"/>
<circle cx="277.6" cy="229.82" r="1.3" fill="#c4122f"/>
<circle cx="276.6" cy="230.69" r="1.3" fill="#c4122f"/>
<circle cx="278.8" cy="230.94" r="1.3" fill="#c4122f"/>
<rect x="291.95" y="228.31" width="5.3" height="28.09" fill="#8397c3"/>
<line x1="294.6" y1="228.31" x2="294.6" y2="221.66" stroke="#2f5f9e" stroke-width="0.8"/>
<line x1="293.2" y1="221.66" x2="296" y2="221.66" stroke="#2f5f9e" stroke-width="0.8"/>
<circle cx="294.6" cy="206.11" r="1.3" fill="#1b3f73"/>
<circle cx="294.6" cy="226.3" r="1.3" fill="#1b3f73"/>
<circle cx="294.6" cy="231.32" r="1.3" fill="#1b3f73"/>
<circle cx="294.6" cy="234.33" r="1.3" fill="#1b3f73"/>
<circle cx="294.6" cy="241.35" r="1.3" fill="#1b3f73"/>
<rect x="301.95" y="230.32" width="5.3" height="26.08" fill="#ec8a80"/>
<line x1="304.6" y1="230.32" x2="304.6" y2="225.8" stroke="#c8283a" stroke-width="0.8"/>
<line x1="303.2" y1="225.8" x2="306" y2="225.8" stroke="#c8283a" stroke-width="0.8"/>
<circle cx="304.6" cy="226.3" r="1.3" fill="#c4122f"/>
<circle cx="303.4" cy="230.32" r="1.3" fill="#c4122f"/>
<circle cx="305.8" cy="230.32" r="1.3" fill="#c4122f"/>
<circle cx="304.6" cy="231.32" r="1.3" fill="#c4122f"/>
<circle cx="304.6" cy="239.97" r="1.3" fill="#c4122f"/>
<rect x="318.95" y="225.68" width="5.3" height="30.72" fill="#8397c3"/>
<line x1="321.6" y1="225.68" x2="321.6" y2="218.15" stroke="#2f5f9e" stroke-width="0.8"/>
<line x1="320.2" y1="218.15" x2="323" y2="218.15" stroke="#2f5f9e" stroke-width="0.8"/>
<circle cx="319.8" cy="212.51" r="1.3" fill="#1b3f73"/>
<circle cx="323.4" cy="212.51" r="1.3" fill="#1b3f73"/>
<circle cx="320.1" cy="225.18" r="1.3" fill="#1b3f73"/>
<circle cx="323.1" cy="225.18" r="1.3" fill="#1b3f73"/>
<circle cx="321.6" cy="243.86" r="1.3" fill="#1b3f73"/>
<rect x="328.95" y="231.45" width="5.3" height="24.95" fill="#ec8a80"/>
<line x1="331.6" y1="231.45" x2="331.6" y2="228.81" stroke="#c8283a" stroke-width="0.8"/>
<line x1="330.2" y1="228.81" x2="333" y2="228.81" stroke="#c8283a" stroke-width="0.8"/>
<circle cx="331.6" cy="223.55" r="1.3" fill="#c4122f"/>
<circle cx="331.6" cy="225.68" r="1.3" fill="#c4122f"/>
<circle cx="330.1" cy="231.32" r="1.3" fill="#c4122f"/>
<circle cx="333.1" cy="231.32" r="1.3" fill="#c4122f"/>
<circle cx="331.6" cy="236.59" r="1.3" fill="#c4122f"/>
<circle cx="331.6" cy="241.35" r="1.3" fill="#c4122f"/>
<rect x="346.25" y="241.35" width="5.3" height="15.05" fill="#8397c3"/>
<line x1="348.9" y1="241.35" x2="348.9" y2="238.22" stroke="#2f5f9e" stroke-width="0.8"/>
<line x1="347.5" y1="238.22" x2="350.3" y2="238.22" stroke="#2f5f9e" stroke-width="0.8"/>
<circle cx="348.9" cy="231.32" r="1.3" fill="#1b3f73"/>
<circle cx="347.7" cy="240.35" r="1.3" fill="#1b3f73"/>
<circle cx="350.1" cy="240.35" r="1.3" fill="#1b3f73"/>
<circle cx="348.9" cy="242.61" r="1.3" fill="#1b3f73"/>
<circle cx="348.9" cy="245.87" r="1.3" fill="#1b3f73"/>
<rect x="356.25" y="240.35" width="5.3" height="16.05" fill="#ec8a80"/>
<line x1="358.9" y1="240.35" x2="358.9" y2="237.84" stroke="#c8283a" stroke-width="0.8"/>
<line x1="357.5" y1="237.84" x2="360.3" y2="237.84" stroke="#c8283a" stroke-width="0.8"/>
<circle cx="357.7" cy="234.83" r="1.3" fill="#c4122f"/>
<circle cx="360.1" cy="236.09" r="1.3" fill="#c4122f"/>
<circle cx="358.9" cy="241.35" r="1.3" fill="#c4122f"/>
<circle cx="358.9" cy="243.86" r="1.3" fill="#c4122f"/>
<line x1="260.5" y1="192.3" x2="260.5" y2="256.9" stroke="#231f20" stroke-width="1.05"/>
<line x1="259.9" y1="256.5" x2="366" y2="256.5" stroke="#231f20" stroke-width="1.05"/>
<line x1="257.4" y1="256.5" x2="260.4" y2="256.5" stroke="#231f20" stroke-width="1.05"/>
<text x="254.2" y="259" font-size="7.5" text-anchor="end">0</text>
<line x1="257.4" y1="243.5" x2="260.4" y2="243.5" stroke="#231f20" stroke-width="1.05"/>
<text x="254.2" y="246.46" font-size="7.5" text-anchor="end">10</text>
<line x1="257.4" y1="231.5" x2="260.4" y2="231.5" stroke="#231f20" stroke-width="1.05"/>
<text x="254.2" y="233.92" font-size="7.5" text-anchor="end">20</text>
<line x1="257.4" y1="218.5" x2="260.4" y2="218.5" stroke="#231f20" stroke-width="1.05"/>
<text x="254.2" y="221.38" font-size="7.5" text-anchor="end">30</text>
<line x1="257.4" y1="206.5" x2="260.4" y2="206.5" stroke="#231f20" stroke-width="1.05"/>
<text x="254.2" y="208.84" font-size="7.5" text-anchor="end">40</text>
<line x1="257.4" y1="193.5" x2="260.4" y2="193.5" stroke="#231f20" stroke-width="1.05"/>
<text x="254.2" y="196.3" font-size="7.5" text-anchor="end">50</text>
<line x1="272.5" y1="256.4" x2="272.5" y2="259.2" stroke="#231f20" stroke-width="1.05"/>
<text x="275.2" y="265.7" font-size="7.4" text-anchor="end" transform="rotate(-45 275.2 265.7)">LTHSC</text>
<line x1="299.5" y1="256.4" x2="299.5" y2="259.2" stroke="#231f20" stroke-width="1.05"/>
<text x="302.2" y="265.7" font-size="7.4" text-anchor="end" transform="rotate(-45 302.2 265.7)">STHSC</text>
<line x1="326.5" y1="256.4" x2="326.5" y2="259.2" stroke="#231f20" stroke-width="1.05"/>
<text x="329.2" y="265.7" font-size="7.4" text-anchor="end" transform="rotate(-45 329.2 265.7)">MPP-GM</text>
<line x1="353.5" y1="256.4" x2="353.5" y2="259.2" stroke="#231f20" stroke-width="1.05"/>
<text x="356.5" y="265.7" font-size="7.4" text-anchor="end" transform="rotate(-45 356.5 265.7)">MPP-MKE</text>
<text x="235.6" y="224.25" font-size="8.8" text-anchor="middle" fill="#333" textLength="45" lengthAdjust="spacingAndGlyphs" transform="rotate(-90 235.6 224.25)">% of LSK cells</text>
<circle cx="278.2" cy="299.6" r="1.2" fill="#1b3f73"/>
<text x="282.3" y="302.1" font-size="7.5">Vehicle</text>
<circle cx="313.5" cy="299.6" r="1.2" fill="#c4122f"/>
<text x="318" y="302.1" font-size="7.5">TKI day 2</text>
<rect x="264.9" y="362.44" width="5.8" height="17.96" fill="#8397c3"/>
<line x1="267.8" y1="362.44" x2="267.8" y2="361.69" stroke="#2f5f9e" stroke-width="0.8"/>
<line x1="266.4" y1="361.69" x2="269.2" y2="361.69" stroke="#2f5f9e" stroke-width="0.8"/>
<circle cx="266.5" cy="361.69" r="1.3" fill="#1b3f73"/>
<circle cx="267.8" cy="361.69" r="1.3" fill="#1b3f73"/>
<circle cx="269.1" cy="361.69" r="1.3" fill="#1b3f73"/>
<circle cx="267.8" cy="368.09" r="1.3" fill="#1b3f73"/>
<rect x="275.3" y="355.15" width="5.8" height="25.25" fill="#ec8a80"/>
<line x1="278.2" y1="355.15" x2="278.2" y2="353.4" stroke="#c8283a" stroke-width="0.8"/>
<line x1="276.8" y1="353.4" x2="279.6" y2="353.4" stroke="#c8283a" stroke-width="0.8"/>
<circle cx="279.5" cy="349" r="1.3" fill="#c4122f"/>
<circle cx="276.9" cy="350.51" r="1.3" fill="#c4122f"/>
<circle cx="278.2" cy="351.51" r="1.3" fill="#c4122f"/>
<circle cx="278.2" cy="355.66" r="1.3" fill="#c4122f"/>
<circle cx="278.2" cy="357.79" r="1.3" fill="#c4122f"/>
<circle cx="278.2" cy="359.8" r="1.3" fill="#c4122f"/>
<rect x="293.1" y="356.16" width="5.8" height="24.24" fill="#8397c3"/>
<line x1="296" y1="356.16" x2="296" y2="353.4" stroke="#2f5f9e" stroke-width="0.8"/>
<line x1="294.6" y1="353.4" x2="297.4" y2="353.4" stroke="#2f5f9e" stroke-width="0.8"/>
<circle cx="296" cy="349" r="1.3" fill="#1b3f73"/>
<circle cx="296" cy="353.02" r="1.3" fill="#1b3f73"/>
<circle cx="294.7" cy="356.16" r="1.3" fill="#1b3f73"/>
<circle cx="296" cy="356.16" r="1.3" fill="#1b3f73"/>
<circle cx="297.3" cy="356.16" r="1.3" fill="#1b3f73"/>
<rect x="303.5" y="355.66" width="5.8" height="24.74" fill="#ec8a80"/>
<line x1="306.4" y1="355.66" x2="306.4" y2="353.4" stroke="#c8283a" stroke-width="0.8"/>
<line x1="305" y1="353.4" x2="307.8" y2="353.4" stroke="#c8283a" stroke-width="0.8"/>
<circle cx="306.4" cy="352.01" r="1.3" fill="#c4122f"/>
<circle cx="305.1" cy="354.02" r="1.3" fill="#c4122f"/>
<circle cx="307.7" cy="354.02" r="1.3" fill="#c4122f"/>
<circle cx="306.4" cy="355.15" r="1.3" fill="#c4122f"/>
<circle cx="306.4" cy="357.79" r="1.3" fill="#c4122f"/>
<rect x="321.15" y="341.59" width="5.8" height="38.81" fill="#8397c3"/>
<line x1="324.05" y1="341.59" x2="324.05" y2="336.44" stroke="#2f5f9e" stroke-width="0.8"/>
<line x1="322.65" y1="336.44" x2="325.45" y2="336.44" stroke="#2f5f9e" stroke-width="0.8"/>
<circle cx="322.45" cy="330.66" r="1.3" fill="#1b3f73"/>
<circle cx="325.65" cy="330.66" r="1.3" fill="#1b3f73"/>
<circle cx="324.05" cy="342.59" r="1.3" fill="#1b3f73"/>
<circle cx="322.55" cy="349.38" r="1.3" fill="#1b3f73"/>
<circle cx="325.55" cy="349.38" r="1.3" fill="#1b3f73"/>
<rect x="331.55" y="358.17" width="5.8" height="22.23" fill="#ec8a80"/>
<line x1="334.45" y1="358.17" x2="334.45" y2="354.65" stroke="#c8283a" stroke-width="0.8"/>
<line x1="333.05" y1="354.65" x2="335.85" y2="354.65" stroke="#c8283a" stroke-width="0.8"/>
<circle cx="334.45" cy="346.24" r="1.3" fill="#c4122f"/>
<circle cx="334.45" cy="348.87" r="1.3" fill="#c4122f"/>
<circle cx="334.45" cy="357.67" r="1.3" fill="#c4122f"/>
<circle cx="334.45" cy="359.8" r="1.3" fill="#c4122f"/>
<circle cx="332.95" cy="365.96" r="1.3" fill="#c4122f"/>
<circle cx="335.95" cy="365.96" r="1.3" fill="#c4122f"/>
<rect x="349.1" y="368.59" width="5.8" height="11.81" fill="#8397c3"/>
<line x1="352" y1="368.59" x2="352" y2="366.58" stroke="#2f5f9e" stroke-width="0.8"/>
<line x1="350.6" y1="366.58" x2="353.4" y2="366.58" stroke="#2f5f9e" stroke-width="0.8"/>
<circle cx="352" cy="362.82" r="1.3" fill="#1b3f73"/>
<circle cx="352" cy="364.95" r="1.3" fill="#1b3f73"/>
<circle cx="350.7" cy="367.97" r="1.3" fill="#1b3f73"/>
<circle cx="353.3" cy="367.97" r="1.3" fill="#1b3f73"/>
<circle cx="352" cy="371.23" r="1.3" fill="#1b3f73"/>
<rect x="359.5" y="356.16" width="5.8" height="24.24" fill="#ec8a80"/>
<line x1="362.4" y1="356.16" x2="362.4" y2="352.01" stroke="#c8283a" stroke-width="0.8"/>
<line x1="361" y1="352.01" x2="363.8" y2="352.01" stroke="#c8283a" stroke-width="0.8"/>
<circle cx="362.4" cy="349" r="1.3" fill="#c4122f"/>
<circle cx="363.7" cy="352.52" r="1.3" fill="#c4122f"/>
<circle cx="361.4" cy="353.52" r="1.3" fill="#c4122f"/>
<circle cx="362.4" cy="357.79" r="1.3" fill="#c4122f"/>
<circle cx="362.4" cy="365.96" r="1.3" fill="#c4122f"/>
<line x1="260.5" y1="316.5" x2="260.5" y2="380.9" stroke="#231f20" stroke-width="1.05"/>
<line x1="259.9" y1="380.5" x2="366" y2="380.5" stroke="#231f20" stroke-width="1.05"/>
<line x1="257.4" y1="380.5" x2="260.4" y2="380.5" stroke="#231f20" stroke-width="1.05"/>
<text x="254.2" y="383" font-size="7.5" text-anchor="end">0</text>
<line x1="257.4" y1="367.5" x2="260.4" y2="367.5" stroke="#231f20" stroke-width="1.05"/>
<text x="254.2" y="370.44" font-size="7.5" text-anchor="end">10</text>
<line x1="257.4" y1="355.5" x2="260.4" y2="355.5" stroke="#231f20" stroke-width="1.05"/>
<text x="254.2" y="357.88" font-size="7.5" text-anchor="end">20</text>
<line x1="257.4" y1="342.5" x2="260.4" y2="342.5" stroke="#231f20" stroke-width="1.05"/>
<text x="254.2" y="345.32" font-size="7.5" text-anchor="end">30</text>
<line x1="257.4" y1="330.5" x2="260.4" y2="330.5" stroke="#231f20" stroke-width="1.05"/>
<text x="254.2" y="332.76" font-size="7.5" text-anchor="end">40</text>
<line x1="257.4" y1="317.5" x2="260.4" y2="317.5" stroke="#231f20" stroke-width="1.05"/>
<text x="254.2" y="320.2" font-size="7.5" text-anchor="end">50</text>
<line x1="273.5" y1="380.4" x2="273.5" y2="383.2" stroke="#231f20" stroke-width="1.05"/>
<text x="275.6" y="389.7" font-size="7.4" text-anchor="end" transform="rotate(-45 275.6 389.7)">LTHSC</text>
<line x1="301.5" y1="380.4" x2="301.5" y2="383.2" stroke="#231f20" stroke-width="1.05"/>
<text x="303.8" y="389.7" font-size="7.4" text-anchor="end" transform="rotate(-45 303.8 389.7)">STHSC</text>
<line x1="329.5" y1="380.4" x2="329.5" y2="383.2" stroke="#231f20" stroke-width="1.05"/>
<text x="331.85" y="389.7" font-size="7.4" text-anchor="end" transform="rotate(-45 331.85 389.7)">MPP-GM</text>
<line x1="357.5" y1="380.4" x2="357.5" y2="383.2" stroke="#231f20" stroke-width="1.05"/>
<text x="359.8" y="389.7" font-size="7.4" text-anchor="end" transform="rotate(-45 359.8 389.7)">MPP-MKE</text>
<text x="235.6" y="348.2" font-size="8.8" text-anchor="middle" fill="#333" textLength="45" lengthAdjust="spacingAndGlyphs" transform="rotate(-90 235.6 348.2)">% of LSK cells</text>
<path d="M267.3 357.7V322.9H278.5V345.3" fill="none" stroke="#6d6d6d" stroke-width="0.8"/>
<circle cx="272.9" cy="319" r="1" fill="#231f20"/>
<path d="M323.4 328.6V322.9H334.3V344.2" fill="none" stroke="#6d6d6d" stroke-width="0.8"/>
<circle cx="323" cy="319" r="1" fill="#231f20"/>
<circle cx="326.9" cy="319" r="1" fill="#231f20"/>
<circle cx="330.8" cy="319" r="1" fill="#231f20"/>
<circle cx="334.7" cy="319" r="1" fill="#231f20"/>
<path d="M352 360.8V322.9H362.9V346.3" fill="none" stroke="#6d6d6d" stroke-width="0.8"/>
<circle cx="355.5" cy="319" r="1" fill="#231f20"/>
<circle cx="359.4" cy="319" r="1" fill="#231f20"/>
<circle cx="279.4" cy="424.2" r="1.2" fill="#1b3f73"/>
<text x="284.3" y="426.7" font-size="7.5">Vehicle</text>
<circle cx="315.4" cy="424.2" r="1.2" fill="#c4122f"/>
<text x="320.3" y="426.7" font-size="7.5">TKI day 14</text>
<rect x="428.9" y="223.3" width="4.6" height="32.8" fill="#8397c3"/>
<line x1="431.2" y1="223.3" x2="431.2" y2="219.2" stroke="#2f5f9e" stroke-width="0.8"/>
<line x1="429.8" y1="219.2" x2="432.6" y2="219.2" stroke="#2f5f9e" stroke-width="0.8"/>
<circle cx="431.2" cy="211" r="1.3" fill="#1b3f73"/>
<circle cx="431.2" cy="219.3" r="1.3" fill="#1b3f73"/>
<circle cx="431.2" cy="224.02" r="1.3" fill="#1b3f73"/>
<circle cx="429.9" cy="227.61" r="1.3" fill="#1b3f73"/>
<circle cx="432.5" cy="227.61" r="1.3" fill="#1b3f73"/>
<rect x="437.3" y="229.66" width="4.6" height="26.44" fill="#ec8a80"/>
<line x1="439.6" y1="229.66" x2="439.6" y2="227.09" stroke="#c8283a" stroke-width="0.8"/>
<line x1="438.2" y1="227.09" x2="441" y2="227.09" stroke="#c8283a" stroke-width="0.8"/>
<circle cx="439.6" cy="221.11" r="1.3" fill="#c4122f"/>
<circle cx="439.6" cy="224.33" r="1.3" fill="#c4122f"/>
<circle cx="438.4" cy="229.66" r="1.3" fill="#c4122f"/>
<circle cx="440.8" cy="230.48" r="1.3" fill="#c4122f"/>
<circle cx="439.6" cy="232.83" r="1.3" fill="#c4122f"/>
<circle cx="439.6" cy="234.37" r="1.3" fill="#c4122f"/>
<rect x="450.9" y="223.3" width="4.6" height="32.8" fill="#8397c3"/>
<line x1="453.2" y1="223.3" x2="453.2" y2="217.77" stroke="#2f5f9e" stroke-width="0.8"/>
<line x1="451.8" y1="217.77" x2="454.6" y2="217.77" stroke="#2f5f9e" stroke-width="0.8"/>
<circle cx="453.2" cy="209.98" r="1.3" fill="#1b3f73"/>
<circle cx="453.2" cy="214.08" r="1.3" fill="#1b3f73"/>
<circle cx="453.2" cy="223.3" r="1.3" fill="#1b3f73"/>
<circle cx="453.2" cy="227.09" r="1.3" fill="#1b3f73"/>
<circle cx="453.2" cy="230.07" r="1.3" fill="#1b3f73"/>
<circle cx="453.2" cy="233.76" r="1.3" fill="#1b3f73"/>
<rect x="459.3" y="238.47" width="4.6" height="17.63" fill="#ec8a80"/>
<line x1="461.6" y1="238.47" x2="461.6" y2="236.42" stroke="#c8283a" stroke-width="0.8"/>
<line x1="460.2" y1="236.42" x2="463" y2="236.42" stroke="#c8283a" stroke-width="0.8"/>
<circle cx="461.6" cy="233.76" r="1.3" fill="#c4122f"/>
<circle cx="462.6" cy="237.04" r="1.3" fill="#c4122f"/>
<circle cx="460.6" cy="238.98" r="1.3" fill="#c4122f"/>
<circle cx="461.6" cy="248.41" r="1.3" fill="#c4122f"/>
<rect x="472.8" y="220.84" width="4.6" height="35.26" fill="#8397c3"/>
<line x1="475.1" y1="220.84" x2="475.1" y2="216.13" stroke="#2f5f9e" stroke-width="0.8"/>
<line x1="473.7" y1="216.13" x2="476.5" y2="216.13" stroke="#2f5f9e" stroke-width="0.8"/>
<circle cx="475.1" cy="211.51" r="1.3" fill="#1b3f73"/>
<circle cx="475.1" cy="214.9" r="1.3" fill="#1b3f73"/>
<circle cx="475.1" cy="217.66" r="1.3" fill="#1b3f73"/>
<circle cx="474.1" cy="221.11" r="1.3" fill="#1b3f73"/>
<circle cx="476.3" cy="222.38" r="1.3" fill="#1b3f73"/>
<circle cx="475.1" cy="225.04" r="1.3" fill="#1b3f73"/>
<rect x="481.2" y="236.93" width="4.6" height="19.17" fill="#ec8a80"/>
<line x1="483.5" y1="236.93" x2="483.5" y2="234.58" stroke="#c8283a" stroke-width="0.8"/>
<line x1="482.1" y1="234.58" x2="484.9" y2="234.58" stroke="#c8283a" stroke-width="0.8"/>
<circle cx="483.5" cy="231.71" r="1.3" fill="#c4122f"/>
<circle cx="484.5" cy="233.76" r="1.3" fill="#c4122f"/>
<circle cx="482.5" cy="236.42" r="1.3" fill="#c4122f"/>
<circle cx="484.5" cy="237.45" r="1.3" fill="#c4122f"/>
<circle cx="483.5" cy="248.31" r="1.3" fill="#c4122f"/>
<rect x="494.9" y="220.84" width="4.6" height="35.26" fill="#8397c3"/>
<line x1="497.2" y1="220.84" x2="497.2" y2="214.59" stroke="#2f5f9e" stroke-width="0.8"/>
<line x1="495.8" y1="214.59" x2="498.6" y2="214.59" stroke="#2f5f9e" stroke-width="0.8"/>
<circle cx="496" cy="207.31" r="1.3" fill="#1b3f73"/>
<circle cx="498.7" cy="209.36" r="1.3" fill="#1b3f73"/>
<circle cx="497.2" cy="218.18" r="1.3" fill="#1b3f73"/>
<circle cx="497.2" cy="228.63" r="1.3" fill="#1b3f73"/>
<circle cx="497.2" cy="236.42" r="1.3" fill="#1b3f73"/>
<rect x="503.3" y="230.17" width="4.6" height="25.93" fill="#ec8a80"/>
<line x1="505.6" y1="230.17" x2="505.6" y2="224.43" stroke="#c8283a" stroke-width="0.8"/>
<line x1="504.2" y1="224.43" x2="507" y2="224.43" stroke="#c8283a" stroke-width="0.8"/>
<circle cx="505.6" cy="217.66" r="1.3" fill="#c4122f"/>
<circle cx="504.4" cy="222.38" r="1.3" fill="#c4122f"/>
<circle cx="506.8" cy="222.38" r="1.3" fill="#c4122f"/>
<circle cx="505.6" cy="228.63" r="1.3" fill="#c4122f"/>
<circle cx="505.6" cy="230.68" r="1.3" fill="#c4122f"/>
<circle cx="505.6" cy="238.47" r="1.3" fill="#c4122f"/>
<line x1="425.5" y1="192.5" x2="425.5" y2="256.6" stroke="#231f20" stroke-width="1.05"/>
<line x1="425.3" y1="256.5" x2="512" y2="256.5" stroke="#231f20" stroke-width="1.05"/>
<line x1="422.8" y1="256.5" x2="425.8" y2="256.5" stroke="#231f20" stroke-width="1.05"/>
<text x="419.7" y="258.7" font-size="8.4" text-anchor="end">0</text>
<line x1="422.8" y1="235.5" x2="425.8" y2="235.5" stroke="#231f20" stroke-width="1.05"/>
<text x="419.7" y="238.2" font-size="8.4" text-anchor="end">1000</text>
<line x1="422.8" y1="215.5" x2="425.8" y2="215.5" stroke="#231f20" stroke-width="1.05"/>
<text x="419.7" y="217.7" font-size="8.4" text-anchor="end">2000</text>
<line x1="422.8" y1="194.5" x2="425.8" y2="194.5" stroke="#231f20" stroke-width="1.05"/>
<text x="419.7" y="197.2" font-size="8.4" text-anchor="end">3000</text>
<line x1="435.5" y1="256.1" x2="435.5" y2="258.9" stroke="#231f20" stroke-width="1.05"/>
<text x="438" y="265.4" font-size="7.4" text-anchor="end" transform="rotate(-45 438 265.4)">LTHSC</text>
<line x1="457.5" y1="256.1" x2="457.5" y2="258.9" stroke="#231f20" stroke-width="1.05"/>
<text x="460" y="265.4" font-size="7.4" text-anchor="end" transform="rotate(-45 460 265.4)">STHSC</text>
<line x1="479.5" y1="256.1" x2="479.5" y2="258.9" stroke="#231f20" stroke-width="1.05"/>
<text x="481.9" y="265.4" font-size="7.4" text-anchor="end" transform="rotate(-45 481.9 265.4)">MPP-GM</text>
<line x1="501.5" y1="256.1" x2="501.5" y2="258.9" stroke="#231f20" stroke-width="1.05"/>
<text x="504" y="265.4" font-size="7.4" text-anchor="end" transform="rotate(-45 504 265.4)">MPP-MKE</text>
<text x="395" y="224.55" font-size="8.8" text-anchor="middle" fill="#333" textLength="74" lengthAdjust="spacingAndGlyphs" transform="rotate(-90 395 224.55)">Translation (Puro MFI)</text>
<path d="M453.3 205.2V200.3H461.6V232.7" fill="none" stroke="#6d6d6d" stroke-width="0.8"/>
<circle cx="455.5" cy="196.4" r="1" fill="#231f20"/>
<circle cx="459.4" cy="196.4" r="1" fill="#231f20"/>
<path d="M475.1 207.2V200.3H483.4V231.1" fill="none" stroke="#6d6d6d" stroke-width="0.8"/>
<circle cx="477.3" cy="196.4" r="1" fill="#231f20"/>
<circle cx="481.2" cy="196.4" r="1" fill="#231f20"/>
<rect x="429" y="349.09" width="4.4" height="28.61" fill="#8397c3"/>
<line x1="431.2" y1="349.09" x2="431.2" y2="347.98" stroke="#2f5f9e" stroke-width="0.8"/>
<line x1="429.8" y1="347.98" x2="432.6" y2="347.98" stroke="#2f5f9e" stroke-width="0.8"/>
<circle cx="430" cy="348.04" r="1.3" fill="#1b3f73"/>
<circle cx="431.2" cy="348.04" r="1.3" fill="#1b3f73"/>
<circle cx="432.4" cy="348.47" r="1.3" fill="#1b3f73"/>
<rect x="437.4" y="351.18" width="4.4" height="26.52" fill="#ec8a80"/>
<line x1="439.6" y1="351.18" x2="439.6" y2="348.84" stroke="#c8283a" stroke-width="0.8"/>
<line x1="438.2" y1="348.84" x2="441" y2="348.84" stroke="#c8283a" stroke-width="0.8"/>
<circle cx="439.6" cy="341.23" r="1.3" fill="#c4122f"/>
<circle cx="439.6" cy="347" r="1.3" fill="#c4122f"/>
<circle cx="438.6" cy="350.07" r="1.3" fill="#c4122f"/>
<circle cx="440.6" cy="351.67" r="1.3" fill="#c4122f"/>
<circle cx="439.6" cy="356.82" r="1.3" fill="#c4122f"/>
<rect x="450.8" y="344.36" width="4.4" height="33.34" fill="#8397c3"/>
<line x1="453" y1="344.36" x2="453" y2="340.86" stroke="#2f5f9e" stroke-width="0.8"/>
<line x1="451.6" y1="340.86" x2="454.4" y2="340.86" stroke="#2f5f9e" stroke-width="0.8"/>
<circle cx="451.8" cy="338.04" r="1.3" fill="#1b3f73"/>
<circle cx="454.2" cy="338.65" r="1.3" fill="#1b3f73"/>
<circle cx="453" cy="341.23" r="1.3" fill="#1b3f73"/>
<circle cx="453" cy="345.96" r="1.3" fill="#1b3f73"/>
<circle cx="453" cy="353.75" r="1.3" fill="#1b3f73"/>
<rect x="459.2" y="352.65" width="4.4" height="25.05" fill="#ec8a80"/>
<line x1="461.4" y1="352.65" x2="461.4" y2="351.3" stroke="#c8283a" stroke-width="0.8"/>
<line x1="460" y1="351.3" x2="462.8" y2="351.3" stroke="#c8283a" stroke-width="0.8"/>
<circle cx="460.4" cy="351.67" r="1.3" fill="#c4122f"/>
<circle cx="462.4" cy="351.67" r="1.3" fill="#c4122f"/>
<circle cx="461.4" cy="354.74" r="1.3" fill="#c4122f"/>
<circle cx="461.4" cy="357.81" r="1.3" fill="#c4122f"/>
<rect x="472.4" y="337.05" width="4.4" height="40.65" fill="#8397c3"/>
<line x1="474.6" y1="337.05" x2="474.6" y2="333.49" stroke="#2f5f9e" stroke-width="0.8"/>
<line x1="473.2" y1="333.49" x2="476" y2="333.49" stroke="#2f5f9e" stroke-width="0.8"/>
<circle cx="473.4" cy="329.32" r="1.3" fill="#1b3f73"/>
<circle cx="475.8" cy="329.32" r="1.3" fill="#1b3f73"/>
<circle cx="474.6" cy="332.39" r="1.3" fill="#1b3f73"/>
<circle cx="474.6" cy="337.05" r="1.3" fill="#1b3f73"/>
<circle cx="474.6" cy="340.68" r="1.3" fill="#1b3f73"/>
<circle cx="474.6" cy="353.63" r="1.3" fill="#1b3f73"/>
<rect x="480.8" y="350.07" width="4.4" height="27.63" fill="#ec8a80"/>
<line x1="483" y1="350.07" x2="483" y2="345.4" stroke="#c8283a" stroke-width="0.8"/>
<line x1="481.6" y1="345.4" x2="484.4" y2="345.4" stroke="#c8283a" stroke-width="0.8"/>
<circle cx="483" cy="338.65" r="1.3" fill="#c4122f"/>
<circle cx="481.8" cy="345.4" r="1.3" fill="#c4122f"/>
<circle cx="484.2" cy="345.4" r="1.3" fill="#c4122f"/>
<circle cx="483" cy="354.12" r="1.3" fill="#c4122f"/>
<circle cx="483" cy="366.03" r="1.3" fill="#c4122f"/>
<rect x="494.3" y="345.4" width="4.4" height="32.3" fill="#8397c3"/>
<line x1="496.5" y1="345.4" x2="496.5" y2="343.32" stroke="#2f5f9e" stroke-width="0.8"/>
<line x1="495.1" y1="343.32" x2="497.9" y2="343.32" stroke="#2f5f9e" stroke-width="0.8"/>
<circle cx="495" cy="341.23" r="1.3" fill="#1b3f73"/>
<circle cx="498" cy="341.23" r="1.3" fill="#1b3f73"/>
<circle cx="496.5" cy="344.36" r="1.3" fill="#1b3f73"/>
<circle cx="495" cy="347.49" r="1.3" fill="#1b3f73"/>
<circle cx="498" cy="347.49" r="1.3" fill="#1b3f73"/>
<rect x="502.7" y="349.58" width="4.4" height="28.12" fill="#ec8a80"/>
<line x1="504.9" y1="349.58" x2="504.9" y2="346.39" stroke="#c8283a" stroke-width="0.8"/>
<line x1="503.5" y1="346.39" x2="506.3" y2="346.39" stroke="#c8283a" stroke-width="0.8"/>
<circle cx="504.9" cy="342.76" r="1.3" fill="#c4122f"/>
<circle cx="504.9" cy="346.39" r="1.3" fill="#c4122f"/>
<circle cx="503.9" cy="349.09" r="1.3" fill="#c4122f"/>
<circle cx="505.9" cy="352.65" r="1.3" fill="#c4122f"/>
<circle cx="504.9" cy="354.74" r="1.3" fill="#c4122f"/>
<line x1="425.5" y1="314.5" x2="425.5" y2="378.2" stroke="#231f20" stroke-width="1.05"/>
<line x1="425.3" y1="377.5" x2="510" y2="377.5" stroke="#231f20" stroke-width="1.05"/>
<line x1="422.8" y1="377.5" x2="425.8" y2="377.5" stroke="#231f20" stroke-width="1.05"/>
<text x="419.7" y="380.3" font-size="8.4" text-anchor="end">0</text>
<line x1="422.8" y1="365.5" x2="425.8" y2="365.5" stroke="#231f20" stroke-width="1.05"/>
<text x="419.7" y="368.02" font-size="8.4" text-anchor="end">1000</text>
<line x1="422.8" y1="353.5" x2="425.8" y2="353.5" stroke="#231f20" stroke-width="1.05"/>
<text x="419.7" y="355.74" font-size="8.4" text-anchor="end">2000</text>
<line x1="422.8" y1="340.5" x2="425.8" y2="340.5" stroke="#231f20" stroke-width="1.05"/>
<text x="419.7" y="343.46" font-size="8.4" text-anchor="end">3000</text>
<line x1="422.8" y1="328.5" x2="425.8" y2="328.5" stroke="#231f20" stroke-width="1.05"/>
<text x="419.7" y="331.18" font-size="8.4" text-anchor="end">4000</text>
<line x1="422.8" y1="316.5" x2="425.8" y2="316.5" stroke="#231f20" stroke-width="1.05"/>
<text x="419.7" y="318.9" font-size="8.4" text-anchor="end">5000</text>
<line x1="435.5" y1="377.7" x2="435.5" y2="380.5" stroke="#231f20" stroke-width="1.05"/>
<text x="438" y="387" font-size="7.4" text-anchor="end" transform="rotate(-45 438 387)">LTHSC</text>
<line x1="457.5" y1="377.7" x2="457.5" y2="380.5" stroke="#231f20" stroke-width="1.05"/>
<text x="459.8" y="387" font-size="7.4" text-anchor="end" transform="rotate(-45 459.8 387)">STHSC</text>
<line x1="478.5" y1="377.7" x2="478.5" y2="380.5" stroke="#231f20" stroke-width="1.05"/>
<text x="481.4" y="387" font-size="7.4" text-anchor="end" transform="rotate(-45 481.4 387)">MPP-GM</text>
<line x1="500.5" y1="377.7" x2="500.5" y2="380.5" stroke="#231f20" stroke-width="1.05"/>
<text x="503.3" y="387" font-size="7.4" text-anchor="end" transform="rotate(-45 503.3 387)">MPP-MKE</text>
<text x="395" y="346.2" font-size="8.8" text-anchor="middle" fill="#333" textLength="74" lengthAdjust="spacingAndGlyphs" transform="rotate(-90 395 346.2)">Translation (Puro MFI)</text>
<path d="M452.5 336.5V322.5H460.9V351.1" fill="none" stroke="#6d6d6d" stroke-width="0.8"/>
<circle cx="454.75" cy="318.6" r="1" fill="#231f20"/>
<circle cx="458.65" cy="318.6" r="1" fill="#231f20"/>
<path d="M474.3 325.6V322.5H482.6V335.4" fill="none" stroke="#6d6d6d" stroke-width="0.8"/>
<circle cx="474.55" cy="318.6" r="1" fill="#231f20"/>
<circle cx="478.45" cy="318.6" r="1" fill="#231f20"/>
<circle cx="482.35" cy="318.6" r="1" fill="#231f20"/>
<rect x="264.95" y="471.62" width="4.5" height="51.98" fill="#8397c3"/>
<line x1="267.2" y1="471.62" x2="267.2" y2="468.54" stroke="#2f5f9e" stroke-width="0.8"/>
<line x1="265.8" y1="468.54" x2="268.6" y2="468.54" stroke="#2f5f9e" stroke-width="0.8"/>
<circle cx="266" cy="464.4" r="1.3" fill="#1b3f73"/>
<circle cx="268.4" cy="464.4" r="1.3" fill="#1b3f73"/>
<circle cx="267.2" cy="468.54" r="1.3" fill="#1b3f73"/>
<circle cx="267.2" cy="472.69" r="1.3" fill="#1b3f73"/>
<circle cx="267.2" cy="480.5" r="1.3" fill="#1b3f73"/>
<rect x="273.35" y="471.62" width="4.5" height="51.98" fill="#ec8a80"/>
<line x1="275.6" y1="471.62" x2="275.6" y2="468.54" stroke="#c8283a" stroke-width="0.8"/>
<line x1="274.2" y1="468.54" x2="277" y2="468.54" stroke="#c8283a" stroke-width="0.8"/>
<circle cx="275.6" cy="464.99" r="1.3" fill="#c4122f"/>
<circle cx="275.6" cy="466.41" r="1.3" fill="#c4122f"/>
<circle cx="274.6" cy="471.09" r="1.3" fill="#c4122f"/>
<circle cx="276.6" cy="473.28" r="1.3" fill="#c4122f"/>
<rect x="287.45" y="473.28" width="4.5" height="50.32" fill="#8397c3"/>
<line x1="289.7" y1="473.28" x2="289.7" y2="468.54" stroke="#2f5f9e" stroke-width="0.8"/>
<line x1="288.3" y1="468.54" x2="291.1" y2="468.54" stroke="#2f5f9e" stroke-width="0.8"/>
<circle cx="288.5" cy="464.4" r="1.3" fill="#1b3f73"/>
<circle cx="290.9" cy="464.4" r="1.3" fill="#1b3f73"/>
<circle cx="289.7" cy="473.28" r="1.3" fill="#1b3f73"/>
<circle cx="289.7" cy="474.7" r="1.3" fill="#1b3f73"/>
<circle cx="289.7" cy="481.86" r="1.3" fill="#1b3f73"/>
<rect x="295.85" y="471.09" width="4.5" height="52.51" fill="#ec8a80"/>
<line x1="298.1" y1="471.09" x2="298.1" y2="467.36" stroke="#c8283a" stroke-width="0.8"/>
<line x1="296.7" y1="467.36" x2="299.5" y2="467.36" stroke="#c8283a" stroke-width="0.8"/>
<circle cx="298.1" cy="464.99" r="1.3" fill="#c4122f"/>
<circle cx="298.1" cy="465.88" r="1.3" fill="#c4122f"/>
<circle cx="298.1" cy="476.24" r="1.3" fill="#c4122f"/>
<circle cx="298.1" cy="480.5" r="1.3" fill="#c4122f"/>
<rect x="309.35" y="477.9" width="4.5" height="45.7" fill="#8397c3"/>
<line x1="311.6" y1="477.9" x2="311.6" y2="473.28" stroke="#2f5f9e" stroke-width="0.8"/>
<line x1="310.2" y1="473.28" x2="313" y2="473.28" stroke="#2f5f9e" stroke-width="0.8"/>
<circle cx="311.6" cy="464.4" r="1.3" fill="#1b3f73"/>
<circle cx="311.6" cy="471.09" r="1.3" fill="#1b3f73"/>
<circle cx="311.6" cy="475.29" r="1.3" fill="#1b3f73"/>
<circle cx="311.6" cy="482.52" r="1.3" fill="#1b3f73"/>
<circle cx="311.6" cy="491.93" r="1.3" fill="#1b3f73"/>
<rect x="317.75" y="478.37" width="4.5" height="45.23" fill="#ec8a80"/>
<line x1="320" y1="478.37" x2="320" y2="473.28" stroke="#c8283a" stroke-width="0.8"/>
<line x1="318.6" y1="473.28" x2="321.4" y2="473.28" stroke="#c8283a" stroke-width="0.8"/>
<circle cx="320" cy="464.4" r="1.3" fill="#c4122f"/>
<circle cx="320" cy="471.09" r="1.3" fill="#c4122f"/>
<circle cx="319" cy="479.38" r="1.3" fill="#c4122f"/>
<circle cx="321" cy="480.5" r="1.3" fill="#c4122f"/>
<circle cx="320" cy="485.71" r="1.3" fill="#c4122f"/>
<rect x="331.75" y="472.21" width="4.5" height="51.39" fill="#8397c3"/>
<line x1="334" y1="472.21" x2="334" y2="467.36" stroke="#2f5f9e" stroke-width="0.8"/>
<line x1="332.6" y1="467.36" x2="335.4" y2="467.36" stroke="#2f5f9e" stroke-width="0.8"/>
<circle cx="332.8" cy="464.4" r="1.3" fill="#1b3f73"/>
<circle cx="335.2" cy="464.4" r="1.3" fill="#1b3f73"/>
<circle cx="334" cy="465.41" r="1.3" fill="#1b3f73"/>
<circle cx="334" cy="472.21" r="1.3" fill="#1b3f73"/>
<circle cx="334" cy="481.98" r="1.3" fill="#1b3f73"/>
<rect x="340.15" y="471.62" width="4.5" height="51.98" fill="#ec8a80"/>
<line x1="342.4" y1="471.62" x2="342.4" y2="467.36" stroke="#c8283a" stroke-width="0.8"/>
<line x1="341" y1="467.36" x2="343.8" y2="467.36" stroke="#c8283a" stroke-width="0.8"/>
<circle cx="341.2" cy="465.41" r="1.3" fill="#c4122f"/>
<circle cx="343.6" cy="465.41" r="1.3" fill="#c4122f"/>
<circle cx="342.4" cy="466.41" r="1.3" fill="#c4122f"/>
<circle cx="342.4" cy="471.09" r="1.3" fill="#c4122f"/>
<circle cx="342.4" cy="484.53" r="1.3" fill="#c4122f"/>
<line x1="261.5" y1="462.5" x2="261.5" y2="524.1" stroke="#231f20" stroke-width="1.05"/>
<line x1="260.9" y1="523.5" x2="348" y2="523.5" stroke="#231f20" stroke-width="1.05"/>
<line x1="258.4" y1="523.5" x2="261.4" y2="523.5" stroke="#231f20" stroke-width="1.05"/>
<text x="255" y="526.2" font-size="7.5" text-anchor="end">0</text>
<line x1="258.4" y1="511.5" x2="261.4" y2="511.5" stroke="#231f20" stroke-width="1.05"/>
<text x="255" y="514.36" font-size="7.5" text-anchor="end">20</text>
<line x1="258.4" y1="499.5" x2="261.4" y2="499.5" stroke="#231f20" stroke-width="1.05"/>
<text x="255" y="502.52" font-size="7.5" text-anchor="end">40</text>
<line x1="258.4" y1="488.5" x2="261.4" y2="488.5" stroke="#231f20" stroke-width="1.05"/>
<text x="255" y="490.68" font-size="7.5" text-anchor="end">60</text>
<line x1="258.4" y1="476.5" x2="261.4" y2="476.5" stroke="#231f20" stroke-width="1.05"/>
<text x="255" y="478.84" font-size="7.5" text-anchor="end">80</text>
<line x1="258.4" y1="464.5" x2="261.4" y2="464.5" stroke="#231f20" stroke-width="1.05"/>
<text x="255" y="467" font-size="7.5" text-anchor="end">100</text>
<line x1="271.5" y1="523.6" x2="271.5" y2="526.4" stroke="#231f20" stroke-width="1.05"/>
<text x="274" y="532.9" font-size="7.4" text-anchor="end" transform="rotate(-45 274 532.9)">LTHSC</text>
<line x1="293.5" y1="523.6" x2="293.5" y2="526.4" stroke="#231f20" stroke-width="1.05"/>
<text x="296.5" y="532.9" font-size="7.4" text-anchor="end" transform="rotate(-45 296.5 532.9)">STHSC</text>
<line x1="315.5" y1="523.6" x2="315.5" y2="526.4" stroke="#231f20" stroke-width="1.05"/>
<text x="318.4" y="532.9" font-size="7.4" text-anchor="end" transform="rotate(-45 318.4 532.9)">MPP-GM</text>
<line x1="338.5" y1="523.6" x2="338.5" y2="526.4" stroke="#231f20" stroke-width="1.05"/>
<text x="340.8" y="532.9" font-size="7.4" text-anchor="end" transform="rotate(-45 340.8 532.9)">MPP-MKE</text>
<text x="225.5" y="492.8" font-size="8.8" text-anchor="middle" fill="#333" textLength="26.3" lengthAdjust="spacingAndGlyphs" transform="rotate(-90 225.5 492.8)">Glucose</text>
<text x="236.4" y="492.8" font-size="8.8" text-anchor="middle" fill="#333" textLength="54.5" lengthAdjust="spacingAndGlyphs" transform="rotate(-90 236.4 492.8)">dependence (%)</text>
<rect x="429.1" y="467.36" width="4.6" height="56.14" fill="#8397c3"/>
<line x1="431.4" y1="467.36" x2="431.4" y2="464.4" stroke="#2f5f9e" stroke-width="0.8"/>
<line x1="430" y1="464.4" x2="432.8" y2="464.4" stroke="#2f5f9e" stroke-width="0.8"/>
<circle cx="429.9" cy="464.4" r="1.3" fill="#1b3f73"/>
<circle cx="431.4" cy="464.4" r="1.3" fill="#1b3f73"/>
<circle cx="432.9" cy="464.4" r="1.3" fill="#1b3f73"/>
<circle cx="431.4" cy="469.72" r="1.3" fill="#1b3f73"/>
<circle cx="431.4" cy="478.23" r="1.3" fill="#1b3f73"/>
<rect x="437.5" y="482.13" width="4.6" height="41.37" fill="#ec8a80"/>
<line x1="439.8" y1="482.13" x2="439.8" y2="476.81" stroke="#c8283a" stroke-width="0.8"/>
<line x1="438.4" y1="476.81" x2="441.2" y2="476.81" stroke="#c8283a" stroke-width="0.8"/>
<circle cx="439.8" cy="472.67" r="1.3" fill="#c4122f"/>
<circle cx="439.8" cy="476.52" r="1.3" fill="#c4122f"/>
<circle cx="438.8" cy="482.13" r="1.3" fill="#c4122f"/>
<circle cx="440.8" cy="482.72" r="1.3" fill="#c4122f"/>
<circle cx="439.8" cy="487.86" r="1.3" fill="#c4122f"/>
<rect x="451.7" y="478.23" width="4.6" height="45.27" fill="#8397c3"/>
<line x1="454" y1="478.23" x2="454" y2="471.49" stroke="#2f5f9e" stroke-width="0.8"/>
<line x1="452.6" y1="471.49" x2="455.4" y2="471.49" stroke="#2f5f9e" stroke-width="0.8"/>
<circle cx="452.8" cy="464.4" r="1.3" fill="#1b3f73"/>
<circle cx="455.2" cy="464.99" r="1.3" fill="#1b3f73"/>
<circle cx="454" cy="474.8" r="1.3" fill="#1b3f73"/>
<circle cx="454" cy="484.49" r="1.3" fill="#1b3f73"/>
<circle cx="454" cy="495.31" r="1.3" fill="#1b3f73"/>
<rect x="460.1" y="478.82" width="4.6" height="44.68" fill="#ec8a80"/>
<line x1="462.4" y1="478.82" x2="462.4" y2="475.63" stroke="#c8283a" stroke-width="0.8"/>
<line x1="461" y1="475.63" x2="463.8" y2="475.63" stroke="#c8283a" stroke-width="0.8"/>
<circle cx="462.4" cy="466.76" r="1.3" fill="#c4122f"/>
<circle cx="462.4" cy="475.39" r="1.3" fill="#c4122f"/>
<circle cx="463.4" cy="477.11" r="1.3" fill="#c4122f"/>
<circle cx="461.4" cy="478.23" r="1.3" fill="#c4122f"/>
<circle cx="462.4" cy="481.6" r="1.3" fill="#c4122f"/>
<circle cx="462.4" cy="483.9" r="1.3" fill="#c4122f"/>
<rect x="474.1" y="474.8" width="4.6" height="48.7" fill="#8397c3"/>
<line x1="476.4" y1="474.8" x2="476.4" y2="470.31" stroke="#2f5f9e" stroke-width="0.8"/>
<line x1="475" y1="470.31" x2="477.8" y2="470.31" stroke="#2f5f9e" stroke-width="0.8"/>
<circle cx="475.2" cy="464.4" r="1.3" fill="#1b3f73"/>
<circle cx="477.6" cy="466.17" r="1.3" fill="#1b3f73"/>
<circle cx="476.4" cy="475.22" r="1.3" fill="#1b3f73"/>
<circle cx="475.2" cy="480.95" r="1.3" fill="#1b3f73"/>
<circle cx="477.6" cy="480.95" r="1.3" fill="#1b3f73"/>
<rect x="482.5" y="482.13" width="4.6" height="41.37" fill="#ec8a80"/>
<line x1="484.8" y1="482.13" x2="484.8" y2="476.22" stroke="#c8283a" stroke-width="0.8"/>
<line x1="483.4" y1="476.22" x2="486.2" y2="476.22" stroke="#c8283a" stroke-width="0.8"/>
<circle cx="484.8" cy="464.4" r="1.3" fill="#c4122f"/>
<circle cx="484.8" cy="475.22" r="1.3" fill="#c4122f"/>
<circle cx="484.8" cy="480.48" r="1.3" fill="#c4122f"/>
<circle cx="484.8" cy="484.38" r="1.3" fill="#c4122f"/>
<circle cx="484.8" cy="490.7" r="1.3" fill="#c4122f"/>
<circle cx="484.8" cy="498.68" r="1.3" fill="#c4122f"/>
<rect x="497" y="470.31" width="4.6" height="53.19" fill="#8397c3"/>
<line x1="499.3" y1="470.31" x2="499.3" y2="464.4" stroke="#2f5f9e" stroke-width="0.8"/>
<line x1="497.9" y1="464.4" x2="500.7" y2="464.4" stroke="#2f5f9e" stroke-width="0.8"/>
<circle cx="497.8" cy="464.4" r="1.3" fill="#1b3f73"/>
<circle cx="499.3" cy="464.4" r="1.3" fill="#1b3f73"/>
<circle cx="500.8" cy="464.4" r="1.3" fill="#1b3f73"/>
<circle cx="499.3" cy="472.97" r="1.3" fill="#1b3f73"/>
<circle cx="499.3" cy="486.68" r="1.3" fill="#1b3f73"/>
<rect x="505.4" y="480.48" width="4.6" height="43.02" fill="#ec8a80"/>
<line x1="507.7" y1="480.48" x2="507.7" y2="474.74" stroke="#c8283a" stroke-width="0.8"/>
<line x1="506.3" y1="474.74" x2="509.1" y2="474.74" stroke="#c8283a" stroke-width="0.8"/>
<circle cx="507.7" cy="464.4" r="1.3" fill="#c4122f"/>
<circle cx="507.7" cy="472.67" r="1.3" fill="#c4122f"/>
<circle cx="507.7" cy="475.22" r="1.3" fill="#c4122f"/>
<circle cx="507.7" cy="478.23" r="1.3" fill="#c4122f"/>
<circle cx="507.7" cy="484.38" r="1.3" fill="#c4122f"/>
<circle cx="507.7" cy="490.7" r="1.3" fill="#c4122f"/>
<circle cx="507.7" cy="494.13" r="1.3" fill="#c4122f"/>
<line x1="425.5" y1="462.5" x2="425.5" y2="524" stroke="#231f20" stroke-width="1.05"/>
<line x1="425.3" y1="523.5" x2="512" y2="523.5" stroke="#231f20" stroke-width="1.05"/>
<line x1="422.8" y1="523.5" x2="425.8" y2="523.5" stroke="#231f20" stroke-width="1.05"/>
<text x="420.6" y="526.1" font-size="7.5" text-anchor="end">0</text>
<line x1="422.8" y1="511.5" x2="425.8" y2="511.5" stroke="#231f20" stroke-width="1.05"/>
<text x="420.6" y="514.28" font-size="7.5" text-anchor="end">20</text>
<line x1="422.8" y1="499.5" x2="425.8" y2="499.5" stroke="#231f20" stroke-width="1.05"/>
<text x="420.6" y="502.46" font-size="7.5" text-anchor="end">40</text>
<line x1="422.8" y1="488.5" x2="425.8" y2="488.5" stroke="#231f20" stroke-width="1.05"/>
<text x="420.6" y="490.64" font-size="7.5" text-anchor="end">60</text>
<line x1="422.8" y1="476.5" x2="425.8" y2="476.5" stroke="#231f20" stroke-width="1.05"/>
<text x="420.6" y="478.82" font-size="7.5" text-anchor="end">80</text>
<line x1="422.8" y1="464.5" x2="425.8" y2="464.5" stroke="#231f20" stroke-width="1.05"/>
<text x="420.6" y="467" font-size="7.5" text-anchor="end">100</text>
<line x1="435.5" y1="523.5" x2="435.5" y2="526.3" stroke="#231f20" stroke-width="1.05"/>
<text x="438.2" y="532.8" font-size="7.4" text-anchor="end" transform="rotate(-45 438.2 532.8)">LTHSC</text>
<line x1="458.5" y1="523.5" x2="458.5" y2="526.3" stroke="#231f20" stroke-width="1.05"/>
<text x="460.8" y="532.8" font-size="7.4" text-anchor="end" transform="rotate(-45 460.8 532.8)">STHSC</text>
<line x1="480.5" y1="523.5" x2="480.5" y2="526.3" stroke="#231f20" stroke-width="1.05"/>
<text x="483.2" y="532.8" font-size="7.4" text-anchor="end" transform="rotate(-45 483.2 532.8)">MPP-GM</text>
<line x1="503.5" y1="523.5" x2="503.5" y2="526.3" stroke="#231f20" stroke-width="1.05"/>
<text x="506.1" y="532.8" font-size="7.4" text-anchor="end" transform="rotate(-45 506.1 532.8)">MPP-MKE</text>
<text x="389" y="492.75" font-size="8.8" text-anchor="middle" fill="#333" textLength="26.3" lengthAdjust="spacingAndGlyphs" transform="rotate(-90 389 492.75)">Glucose</text>
<text x="398.8" y="492.75" font-size="8.8" text-anchor="middle" fill="#333" textLength="49" lengthAdjust="spacingAndGlyphs" transform="rotate(-90 398.8 492.75)">dependence (%)</text>
<path d="M431.3 460.5V457.1H439.8V469.1" fill="none" stroke="#6d6d6d" stroke-width="0.8"/>
<circle cx="435.55" cy="453.2" r="1" fill="#231f20"/>
<path d="M499 460V457.1H507.6V469" fill="none" stroke="#6d6d6d" stroke-width="0.8"/>
<circle cx="503.3" cy="453.2" r="1" fill="#231f20"/>
<rect x="180.65" y="645.4" width="4.3" height="4" fill="#8397c3"/>
<line x1="182.8" y1="645.4" x2="182.8" y2="641.04" stroke="#2f5f9e" stroke-width="0.8"/>
<line x1="181.4" y1="641.04" x2="184.2" y2="641.04" stroke="#2f5f9e" stroke-width="0.8"/>
<circle cx="182.8" cy="633.88" r="1.3" fill="#1b3f73"/>
<circle cx="182.8" cy="641.04" r="1.3" fill="#1b3f73"/>
<circle cx="182.8" cy="644.03" r="1.3" fill="#1b3f73"/>
<circle cx="182.8" cy="646.41" r="1.3" fill="#1b3f73"/>
<circle cx="182.8" cy="648.8" r="1.3" fill="#1b3f73"/>
<rect x="188.85" y="644.98" width="4.3" height="4.42" fill="#ec8a80"/>
<line x1="191" y1="644.98" x2="191" y2="642.65" stroke="#c8283a" stroke-width="0.8"/>
<line x1="189.6" y1="642.65" x2="192.4" y2="642.65" stroke="#c8283a" stroke-width="0.8"/>
<circle cx="189.8" cy="642.65" r="1.3" fill="#c4122f"/>
<circle cx="191" cy="642.65" r="1.3" fill="#c4122f"/>
<circle cx="192.2" cy="642.65" r="1.3" fill="#c4122f"/>
<circle cx="191" cy="646.41" r="1.3" fill="#c4122f"/>
<circle cx="191" cy="648.8" r="1.3" fill="#c4122f"/>
<rect x="203.15" y="641.04" width="4.3" height="8.36" fill="#8397c3"/>
<line x1="205.3" y1="641.04" x2="205.3" y2="638.65" stroke="#2f5f9e" stroke-width="0.8"/>
<line x1="203.9" y1="638.65" x2="206.7" y2="638.65" stroke="#2f5f9e" stroke-width="0.8"/>
<circle cx="205.3" cy="631.61" r="1.3" fill="#1b3f73"/>
<circle cx="205.3" cy="638.77" r="1.3" fill="#1b3f73"/>
<circle cx="206.3" cy="640.09" r="1.3" fill="#1b3f73"/>
<circle cx="205.3" cy="645.4" r="1.3" fill="#1b3f73"/>
<circle cx="205.3" cy="648.21" r="1.3" fill="#1b3f73"/>
<rect x="211.35" y="644.98" width="4.3" height="4.42" fill="#ec8a80"/>
<line x1="213.5" y1="644.98" x2="213.5" y2="636.98" stroke="#c8283a" stroke-width="0.8"/>
<line x1="212.1" y1="636.98" x2="214.9" y2="636.98" stroke="#c8283a" stroke-width="0.8"/>
<circle cx="213.5" cy="631.61" r="1.3" fill="#c4122f"/>
<circle cx="213.5" cy="636.45" r="1.3" fill="#c4122f"/>
<circle cx="213.5" cy="638.3" r="1.3" fill="#c4122f"/>
<circle cx="213.5" cy="644.62" r="1.3" fill="#c4122f"/>
<circle cx="213.5" cy="647.61" r="1.3" fill="#c4122f"/>
<rect x="225.65" y="638.3" width="4.3" height="11.1" fill="#8397c3"/>
<line x1="227.8" y1="638.3" x2="227.8" y2="631.61" stroke="#2f5f9e" stroke-width="0.8"/>
<line x1="226.4" y1="631.61" x2="229.2" y2="631.61" stroke="#2f5f9e" stroke-width="0.8"/>
<circle cx="227.8" cy="621.94" r="1.3" fill="#1b3f73"/>
<circle cx="227.8" cy="631.61" r="1.3" fill="#1b3f73"/>
<circle cx="227.8" cy="638.77" r="1.3" fill="#1b3f73"/>
<circle cx="227.8" cy="642.83" r="1.3" fill="#1b3f73"/>
<circle cx="227.8" cy="648.21" r="1.3" fill="#1b3f73"/>
<rect x="233.85" y="638.3" width="4.3" height="11.1" fill="#ec8a80"/>
<line x1="236" y1="638.3" x2="236" y2="633.88" stroke="#c8283a" stroke-width="0.8"/>
<line x1="234.6" y1="633.88" x2="237.4" y2="633.88" stroke="#c8283a" stroke-width="0.8"/>
<circle cx="236" cy="628.5" r="1.3" fill="#c4122f"/>
<circle cx="234.8" cy="633.46" r="1.3" fill="#c4122f"/>
<circle cx="237.2" cy="633.46" r="1.3" fill="#c4122f"/>
<circle cx="236" cy="641.04" r="1.3" fill="#c4122f"/>
<circle cx="236" cy="647.61" r="1.3" fill="#c4122f"/>
<rect x="248.05" y="645.4" width="4.3" height="4" fill="#8397c3"/>
<line x1="250.2" y1="645.4" x2="250.2" y2="640.44" stroke="#2f5f9e" stroke-width="0.8"/>
<line x1="248.8" y1="640.44" x2="251.6" y2="640.44" stroke="#2f5f9e" stroke-width="0.8"/>
<circle cx="250.2" cy="631.61" r="1.3" fill="#1b3f73"/>
<circle cx="250.2" cy="640.44" r="1.3" fill="#1b3f73"/>
<circle cx="250.2" cy="645.4" r="1.3" fill="#1b3f73"/>
<circle cx="250.2" cy="647.91" r="1.3" fill="#1b3f73"/>
<circle cx="250.2" cy="649.1" r="1.3" fill="#1b3f73"/>
<rect x="256.25" y="643.55" width="4.3" height="5.85" fill="#ec8a80"/>
<line x1="258.4" y1="643.55" x2="258.4" y2="639.25" stroke="#c8283a" stroke-width="0.8"/>
<line x1="257" y1="639.25" x2="259.8" y2="639.25" stroke="#c8283a" stroke-width="0.8"/>
<circle cx="258.4" cy="628.98" r="1.3" fill="#c4122f"/>
<circle cx="258.4" cy="642.65" r="1.3" fill="#c4122f"/>
<circle cx="258.4" cy="644.62" r="1.3" fill="#c4122f"/>
<circle cx="258.4" cy="646.41" r="1.3" fill="#c4122f"/>
<circle cx="258.4" cy="648.21" r="1.3" fill="#c4122f"/>
<line x1="177.5" y1="588" x2="177.5" y2="649.9" stroke="#231f20" stroke-width="1.05"/>
<line x1="177.1" y1="649.5" x2="264" y2="649.5" stroke="#231f20" stroke-width="1.05"/>
<line x1="174.6" y1="649.5" x2="177.6" y2="649.5" stroke="#231f20" stroke-width="1.05"/>
<text x="171.5" y="652" font-size="7.5" text-anchor="end">0</text>
<line x1="174.6" y1="637.5" x2="177.6" y2="637.5" stroke="#231f20" stroke-width="1.05"/>
<text x="171.5" y="640.06" font-size="7.5" text-anchor="end">20</text>
<line x1="174.6" y1="625.5" x2="177.6" y2="625.5" stroke="#231f20" stroke-width="1.05"/>
<text x="171.5" y="628.12" font-size="7.5" text-anchor="end">40</text>
<line x1="174.6" y1="613.5" x2="177.6" y2="613.5" stroke="#231f20" stroke-width="1.05"/>
<text x="171.5" y="616.18" font-size="7.5" text-anchor="end">60</text>
<line x1="174.6" y1="601.5" x2="177.6" y2="601.5" stroke="#231f20" stroke-width="1.05"/>
<text x="171.5" y="604.24" font-size="7.5" text-anchor="end">80</text>
<line x1="174.6" y1="589.5" x2="177.6" y2="589.5" stroke="#231f20" stroke-width="1.05"/>
<text x="171.5" y="592.3" font-size="7.5" text-anchor="end">100</text>
<line x1="186.5" y1="649.4" x2="186.5" y2="652.2" stroke="#231f20" stroke-width="1.05"/>
<text x="189.5" y="658.7" font-size="7.4" text-anchor="end" transform="rotate(-45 189.5 658.7)">LTHSC</text>
<line x1="209.5" y1="649.4" x2="209.5" y2="652.2" stroke="#231f20" stroke-width="1.05"/>
<text x="212" y="658.7" font-size="7.4" text-anchor="end" transform="rotate(-45 212 658.7)">STHSC</text>
<line x1="231.5" y1="649.4" x2="231.5" y2="652.2" stroke="#231f20" stroke-width="1.05"/>
<text x="234.5" y="658.7" font-size="7.4" text-anchor="end" transform="rotate(-45 234.5 658.7)">MPP-GM</text>
<line x1="254.5" y1="649.4" x2="254.5" y2="652.2" stroke="#231f20" stroke-width="1.05"/>
<text x="256.9" y="658.7" font-size="7.4" text-anchor="end" transform="rotate(-45 256.9 658.7)">MPP-MKE</text>
<text x="140.6" y="618.35" font-size="8.8" text-anchor="middle" fill="#333" textLength="35.6" lengthAdjust="spacingAndGlyphs" transform="rotate(-90 140.6 618.35)">FAO &amp; AAO</text>
<text x="152.1" y="618.35" font-size="8.8" text-anchor="middle" fill="#333" textLength="39.4" lengthAdjust="spacingAndGlyphs" transform="rotate(-90 152.1 618.35)">capacity (%)</text>
<circle cx="184.5" cy="590.5" r="1.2" fill="#1b3f73"/>
<text x="188.7" y="593" font-size="7.5">Vehicle</text>
<circle cx="222.5" cy="590.5" r="1.2" fill="#c4122f"/>
<text x="227" y="593" font-size="7.5">TKI day 2</text>
<rect x="320.75" y="647.01" width="4.3" height="2.39" fill="#8397c3"/>
<line x1="322.9" y1="647.01" x2="322.9" y2="644.8" stroke="#2f5f9e" stroke-width="0.8"/>
<line x1="321.5" y1="644.8" x2="324.3" y2="644.8" stroke="#2f5f9e" stroke-width="0.8"/>
<circle cx="322.9" cy="637.32" r="1.3" fill="#1b3f73"/>
<circle cx="322.9" cy="644.8" r="1.3" fill="#1b3f73"/>
<circle cx="322.9" cy="647.31" r="1.3" fill="#1b3f73"/>
<circle cx="322.9" cy="648.5" r="1.3" fill="#1b3f73"/>
<circle cx="322.9" cy="649.1" r="1.3" fill="#1b3f73"/>
<rect x="328.95" y="634.81" width="4.3" height="14.59" fill="#ec8a80"/>
<line x1="331.1" y1="634.81" x2="331.1" y2="632.18" stroke="#c8283a" stroke-width="0.8"/>
<line x1="329.7" y1="632.18" x2="332.5" y2="632.18" stroke="#c8283a" stroke-width="0.8"/>
<circle cx="331.1" cy="627.51" r="1.3" fill="#c4122f"/>
<circle cx="331.1" cy="632.18" r="1.3" fill="#c4122f"/>
<circle cx="331.1" cy="633.25" r="1.3" fill="#c4122f"/>
<circle cx="331.1" cy="636.6" r="1.3" fill="#c4122f"/>
<circle cx="331.1" cy="638.28" r="1.3" fill="#c4122f"/>
<rect x="342.05" y="639.23" width="4.3" height="10.17" fill="#8397c3"/>
<line x1="344.2" y1="639.23" x2="344.2" y2="635.29" stroke="#2f5f9e" stroke-width="0.8"/>
<line x1="342.8" y1="635.29" x2="345.6" y2="635.29" stroke="#2f5f9e" stroke-width="0.8"/>
<circle cx="343" cy="629.67" r="1.3" fill="#1b3f73"/>
<circle cx="345.4" cy="629.67" r="1.3" fill="#1b3f73"/>
<circle cx="344.2" cy="640.01" r="1.3" fill="#1b3f73"/>
<circle cx="344.2" cy="643.42" r="1.3" fill="#1b3f73"/>
<circle cx="344.2" cy="646.41" r="1.3" fill="#1b3f73"/>
<rect x="350.25" y="635.71" width="4.3" height="13.69" fill="#ec8a80"/>
<line x1="352.4" y1="635.71" x2="352.4" y2="633.25" stroke="#c8283a" stroke-width="0.8"/>
<line x1="351" y1="633.25" x2="353.8" y2="633.25" stroke="#c8283a" stroke-width="0.8"/>
<circle cx="352.4" cy="631.46" r="1.3" fill="#c4122f"/>
<circle cx="352.4" cy="633.07" r="1.3" fill="#c4122f"/>
<circle cx="352.4" cy="634.81" r="1.3" fill="#c4122f"/>
<circle cx="352.4" cy="636.6" r="1.3" fill="#c4122f"/>
<rect x="363.35" y="642.22" width="4.3" height="7.18" fill="#8397c3"/>
<line x1="365.5" y1="642.22" x2="365.5" y2="638.28" stroke="#2f5f9e" stroke-width="0.8"/>
<line x1="364.1" y1="638.28" x2="366.9" y2="638.28" stroke="#2f5f9e" stroke-width="0.8"/>
<circle cx="365.5" cy="633.49" r="1.3" fill="#1b3f73"/>
<circle cx="366.5" cy="634.81" r="1.3" fill="#1b3f73"/>
<circle cx="365.5" cy="638.64" r="1.3" fill="#1b3f73"/>
<circle cx="365.5" cy="642.22" r="1.3" fill="#1b3f73"/>
<circle cx="365.5" cy="647.01" r="1.3" fill="#1b3f73"/>
<circle cx="365.5" cy="647.9" r="1.3" fill="#1b3f73"/>
<rect x="371.55" y="634.45" width="4.3" height="14.95" fill="#ec8a80"/>
<line x1="373.7" y1="634.45" x2="373.7" y2="627.51" stroke="#c8283a" stroke-width="0.8"/>
<line x1="372.3" y1="627.51" x2="375.1" y2="627.51" stroke="#c8283a" stroke-width="0.8"/>
<circle cx="373.7" cy="616.63" r="1.3" fill="#c4122f"/>
<circle cx="373.7" cy="624.88" r="1.3" fill="#c4122f"/>
<circle cx="373.7" cy="634.81" r="1.3" fill="#c4122f"/>
<circle cx="373.7" cy="638.28" r="1.3" fill="#c4122f"/>
<circle cx="373.7" cy="643.48" r="1.3" fill="#c4122f"/>
<rect x="384.25" y="647.01" width="4.3" height="2.39" fill="#8397c3"/>
<line x1="386.4" y1="647.01" x2="386.4" y2="640.43" stroke="#2f5f9e" stroke-width="0.8"/>
<line x1="385" y1="640.43" x2="387.8" y2="640.43" stroke="#2f5f9e" stroke-width="0.8"/>
<circle cx="386.4" cy="627.87" r="1.3" fill="#1b3f73"/>
<circle cx="386.4" cy="646.59" r="1.3" fill="#1b3f73"/>
<circle cx="386.4" cy="647.9" r="1.3" fill="#1b3f73"/>
<circle cx="386.4" cy="648.8" r="1.3" fill="#1b3f73"/>
<rect x="392.45" y="635.71" width="4.3" height="13.69" fill="#ec8a80"/>
<line x1="394.6" y1="635.71" x2="394.6" y2="629.67" stroke="#c8283a" stroke-width="0.8"/>
<line x1="393.2" y1="629.67" x2="396" y2="629.67" stroke="#c8283a" stroke-width="0.8"/>
<circle cx="394.6" cy="621" r="1.3" fill="#c4122f"/>
<circle cx="394.6" cy="624.88" r="1.3" fill="#c4122f"/>
<circle cx="394.6" cy="636.6" r="1.3" fill="#c4122f"/>
<circle cx="394.6" cy="640.01" r="1.3" fill="#c4122f"/>
<circle cx="394.6" cy="643.48" r="1.3" fill="#c4122f"/>
<line x1="317.5" y1="588" x2="317.5" y2="649.9" stroke="#231f20" stroke-width="1.05"/>
<line x1="317.3" y1="649.5" x2="400" y2="649.5" stroke="#231f20" stroke-width="1.05"/>
<line x1="314.8" y1="649.5" x2="317.8" y2="649.5" stroke="#231f20" stroke-width="1.05"/>
<text x="311.9" y="652" font-size="7.5" text-anchor="end">0</text>
<line x1="314.8" y1="637.5" x2="317.8" y2="637.5" stroke="#231f20" stroke-width="1.05"/>
<text x="311.9" y="640.04" font-size="7.5" text-anchor="end">20</text>
<line x1="314.8" y1="625.5" x2="317.8" y2="625.5" stroke="#231f20" stroke-width="1.05"/>
<text x="311.9" y="628.08" font-size="7.5" text-anchor="end">40</text>
<line x1="314.8" y1="613.5" x2="317.8" y2="613.5" stroke="#231f20" stroke-width="1.05"/>
<text x="311.9" y="616.12" font-size="7.5" text-anchor="end">60</text>
<line x1="314.8" y1="601.5" x2="317.8" y2="601.5" stroke="#231f20" stroke-width="1.05"/>
<text x="311.9" y="604.16" font-size="7.5" text-anchor="end">80</text>
<line x1="314.8" y1="589.5" x2="317.8" y2="589.5" stroke="#231f20" stroke-width="1.05"/>
<text x="311.9" y="592.2" font-size="7.5" text-anchor="end">100</text>
<line x1="327.5" y1="649.4" x2="327.5" y2="652.2" stroke="#231f20" stroke-width="1.05"/>
<text x="329.6" y="658.7" font-size="7.4" text-anchor="end" transform="rotate(-45 329.6 658.7)">LTHSC</text>
<line x1="348.5" y1="649.4" x2="348.5" y2="652.2" stroke="#231f20" stroke-width="1.05"/>
<text x="350.9" y="658.7" font-size="7.4" text-anchor="end" transform="rotate(-45 350.9 658.7)">STHSC</text>
<line x1="369.5" y1="649.4" x2="369.5" y2="652.2" stroke="#231f20" stroke-width="1.05"/>
<text x="372.2" y="658.7" font-size="7.4" text-anchor="end" transform="rotate(-45 372.2 658.7)">MPP-GM</text>
<line x1="390.5" y1="649.4" x2="390.5" y2="652.2" stroke="#231f20" stroke-width="1.05"/>
<text x="393.1" y="658.7" font-size="7.4" text-anchor="end" transform="rotate(-45 393.1 658.7)">MPP-MKE</text>
<text x="281" y="618.7" font-size="8.8" text-anchor="middle" fill="#333" textLength="37.1" lengthAdjust="spacingAndGlyphs" transform="rotate(-90 281 618.7)">FAO &amp; AAO</text>
<text x="291.9" y="618.7" font-size="8.8" text-anchor="middle" fill="#333" textLength="39.7" lengthAdjust="spacingAndGlyphs" transform="rotate(-90 291.9 618.7)">capacity (%)</text>
<path d="M322.9 633.5V609.7H331.6V624.4" fill="none" stroke="#6d6d6d" stroke-width="0.8"/>
<circle cx="327.25" cy="605.8" r="1" fill="#231f20"/>
<path d="M386.1 627.5V609.7H394.4V617.5" fill="none" stroke="#6d6d6d" stroke-width="0.8"/>
<circle cx="390.25" cy="605.8" r="1" fill="#231f20"/>
<circle cx="322.5" cy="590.7" r="1.2" fill="#1b3f73"/>
<text x="327.3" y="593.2" font-size="7.5">Vehicle</text>
<circle cx="360.2" cy="590.7" r="1.2" fill="#c4122f"/>
<text x="365" y="593.2" font-size="7.5">TKI day 14</text>
<rect x="0.5" y="0.5" width="519" height="692" fill="none" stroke="#4a4a4a" stroke-width="1"/>
</svg>
</div>
</body></html>
